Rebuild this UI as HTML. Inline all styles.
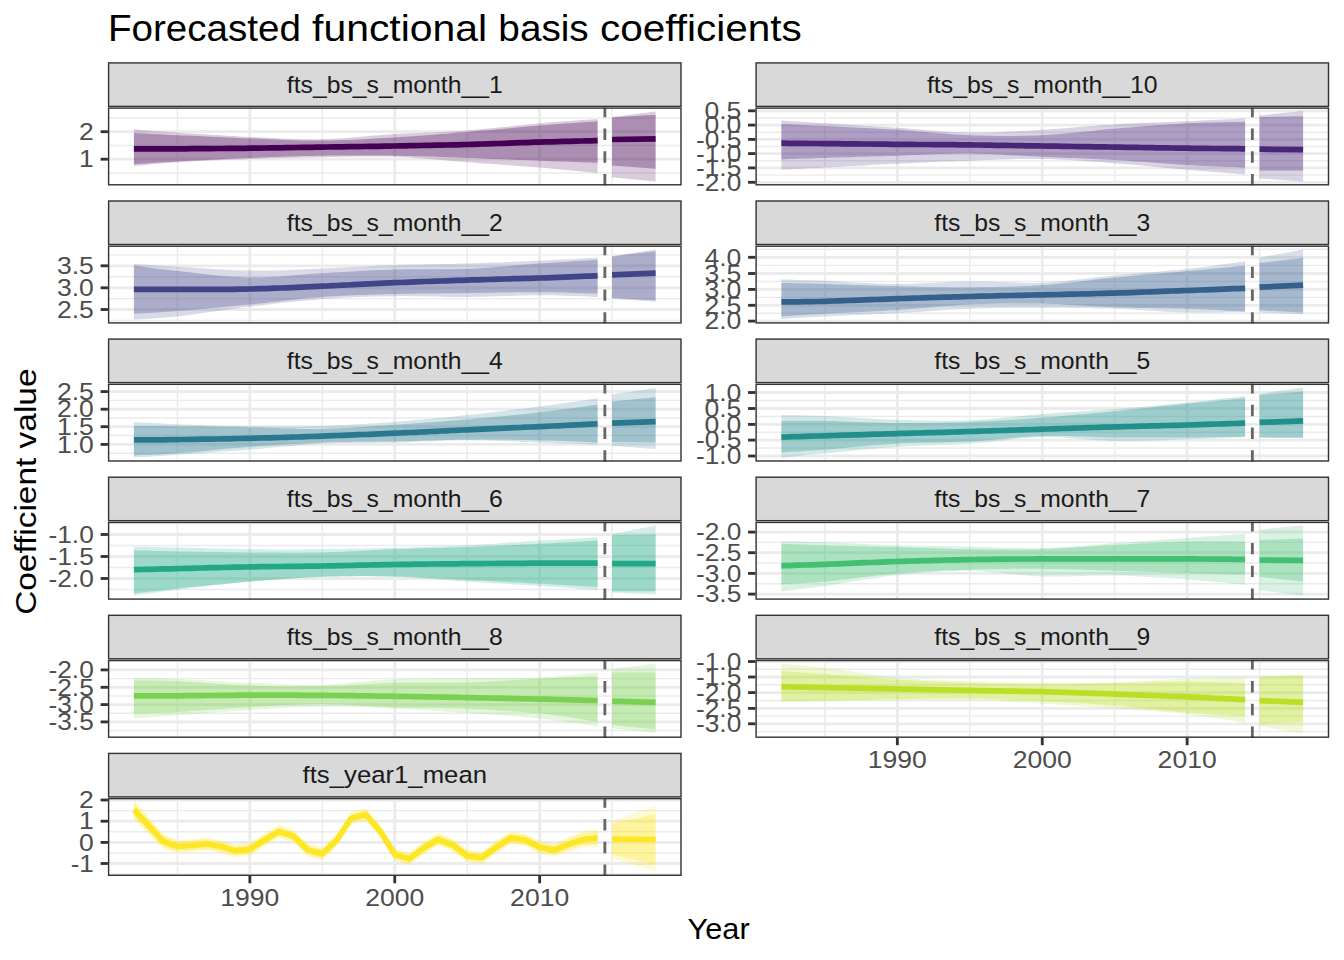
<!DOCTYPE html><html><head><meta charset="utf-8"><style>html,body{margin:0;padding:0;background:#fff;width:1344px;height:960px;overflow:hidden}svg{display:block}text{font-family:"Liberation Sans",sans-serif}</style></head><body>
<svg width="1344" height="960" viewBox="0 0 1344 960">
<rect x="0" y="0" width="1344" height="960" fill="#ffffff"/>
<defs>
<clipPath id="cp0"><rect x="107.90" y="107.40" width="573.80" height="78.10"/></clipPath>
<clipPath id="cp1"><rect x="755.40" y="107.40" width="573.80" height="78.10"/></clipPath>
<clipPath id="cp2"><rect x="107.90" y="245.50" width="573.80" height="78.10"/></clipPath>
<clipPath id="cp3"><rect x="755.40" y="245.50" width="573.80" height="78.10"/></clipPath>
<clipPath id="cp4"><rect x="107.90" y="383.60" width="573.80" height="78.10"/></clipPath>
<clipPath id="cp5"><rect x="755.40" y="383.60" width="573.80" height="78.10"/></clipPath>
<clipPath id="cp6"><rect x="107.90" y="521.70" width="573.80" height="78.10"/></clipPath>
<clipPath id="cp7"><rect x="755.40" y="521.70" width="573.80" height="78.10"/></clipPath>
<clipPath id="cp8"><rect x="107.90" y="659.80" width="573.80" height="78.10"/></clipPath>
<clipPath id="cp9"><rect x="755.40" y="659.80" width="573.80" height="78.10"/></clipPath>
<clipPath id="cp10"><rect x="107.90" y="797.90" width="573.80" height="78.10"/></clipPath>
</defs>
<text x="107.90" y="40.70" font-size="36.26" fill="#000000" text-anchor="start" textLength="192.95" lengthAdjust="spacingAndGlyphs">Forecasted</text><text x="312.04" y="40.70" font-size="36.26" fill="#000000" text-anchor="start" textLength="175.14" lengthAdjust="spacingAndGlyphs">functional</text><text x="498.36" y="40.70" font-size="36.26" fill="#000000" text-anchor="start" textLength="90.37" lengthAdjust="spacingAndGlyphs">basis</text><text x="599.92" y="40.70" font-size="36.26" fill="#000000" text-anchor="start" textLength="201.82" lengthAdjust="spacingAndGlyphs">coefficients</text>
<g transform="translate(35.9,491.6) rotate(-90)"><text x="-123.21" y="0.00" font-size="30.18" fill="#000000" text-anchor="start" textLength="157.08" lengthAdjust="spacingAndGlyphs">Coefficient</text><text x="43.18" y="0.00" font-size="30.18" fill="#000000" text-anchor="start" textLength="80.03" lengthAdjust="spacingAndGlyphs">value</text></g>
<text x="718.60" y="938.70" font-size="30.18" fill="#000000" text-anchor="middle" textLength="62.03" lengthAdjust="spacingAndGlyphs">Year</text>
<rect x="108.61" y="62.91" width="572.38" height="43.48" fill="#D9D9D9" stroke="#333333" stroke-width="1.42"/>
<text x="394.80" y="92.70" font-size="23.90" fill="#1A1A1A" text-anchor="middle" textLength="215.90" lengthAdjust="spacingAndGlyphs">fts_bs_s_month__1</text>
<g clip-path="url(#cp0)">
<rect x="107.90" y="107.40" width="573.80" height="78.10" fill="#ffffff"/>
<line x1="107.90" y1="145.45" x2="681.70" y2="145.45" stroke="#EBEBEB" stroke-width="1.42"/>
<line x1="107.90" y1="117.95" x2="681.70" y2="117.95" stroke="#EBEBEB" stroke-width="1.42"/>
<line x1="107.90" y1="172.95" x2="681.70" y2="172.95" stroke="#EBEBEB" stroke-width="1.42"/>
<line x1="177.40" y1="107.40" x2="177.40" y2="185.50" stroke="#EBEBEB" stroke-width="1.42"/>
<line x1="322.30" y1="107.40" x2="322.30" y2="185.50" stroke="#EBEBEB" stroke-width="1.42"/>
<line x1="467.20" y1="107.40" x2="467.20" y2="185.50" stroke="#EBEBEB" stroke-width="1.42"/>
<line x1="612.10" y1="107.40" x2="612.10" y2="185.50" stroke="#EBEBEB" stroke-width="1.42"/>
<line x1="107.90" y1="131.70" x2="681.70" y2="131.70" stroke="#EBEBEB" stroke-width="2.84"/>
<line x1="107.90" y1="159.20" x2="681.70" y2="159.20" stroke="#EBEBEB" stroke-width="2.84"/>
<line x1="249.85" y1="107.40" x2="249.85" y2="185.50" stroke="#EBEBEB" stroke-width="2.84"/>
<line x1="394.75" y1="107.40" x2="394.75" y2="185.50" stroke="#EBEBEB" stroke-width="2.84"/>
<line x1="539.65" y1="107.40" x2="539.65" y2="185.50" stroke="#EBEBEB" stroke-width="2.84"/>
<path d="M133.9,129.4 L137.1,129.6 L141.1,129.9 L145.8,130.3 L151.1,130.7 L157.1,131.2 L163.5,131.6 L170.3,132.1 L177.4,132.6 L181.7,132.9 L186.2,133.2 L191.0,133.5 L196.0,133.8 L201.1,134.1 L206.4,134.5 L211.8,134.8 L217.3,135.1 L222.8,135.5 L228.3,135.8 L233.8,136.1 L239.2,136.4 L244.6,136.7 L249.8,136.9 L255.0,137.1 L260.2,137.4 L265.4,137.6 L270.6,137.9 L275.7,138.1 L280.9,138.4 L286.1,138.6 L291.2,138.8 L296.4,138.9 L301.6,139.1 L306.8,139.1 L311.9,139.2 L317.1,139.2 L322.3,139.1 L327.5,139.0 L332.7,138.8 L337.8,138.5 L343.0,138.2 L348.2,137.8 L353.4,137.4 L358.5,137.0 L363.7,136.5 L368.9,136.1 L374.1,135.6 L379.2,135.2 L384.4,134.8 L389.6,134.4 L394.8,134.1 L399.9,133.8 L405.1,133.5 L410.3,133.3 L415.4,133.1 L420.6,132.9 L425.8,132.6 L431.0,132.4 L436.1,132.2 L441.3,132.0 L446.5,131.8 L451.7,131.5 L456.8,131.2 L462.0,130.9 L467.2,130.5 L472.4,130.1 L477.7,129.6 L483.0,129.1 L488.3,128.6 L493.7,128.1 L499.0,127.5 L504.3,126.9 L509.6,126.4 L514.8,125.8 L520.0,125.3 L525.1,124.7 L530.1,124.2 L534.9,123.7 L539.6,123.3 L545.7,122.8 L551.9,122.3 L558.1,121.8 L564.2,121.3 L570.2,120.9 L576.0,120.5 L581.4,120.1 L586.4,119.8 L590.8,119.5 L594.6,119.2 L597.6,119.0 L597.6,173.0 L594.6,172.7 L590.8,172.3 L586.4,171.9 L581.4,171.4 L576.0,170.9 L570.2,170.4 L564.2,169.8 L558.1,169.2 L551.9,168.7 L545.7,168.1 L539.6,167.6 L534.9,167.2 L530.1,166.8 L525.1,166.4 L520.0,166.1 L514.8,165.7 L509.6,165.3 L504.3,164.9 L499.0,164.5 L493.7,164.1 L488.3,163.7 L483.0,163.4 L477.7,163.0 L472.4,162.6 L467.2,162.2 L462.0,161.8 L456.8,161.4 L451.7,160.9 L446.5,160.5 L441.3,160.0 L436.1,159.6 L431.0,159.1 L425.8,158.7 L420.6,158.3 L415.4,157.9 L410.3,157.6 L405.1,157.3 L399.9,157.0 L394.8,156.8 L389.6,156.6 L384.4,156.5 L379.2,156.5 L374.1,156.5 L368.9,156.5 L363.7,156.5 L358.5,156.5 L353.4,156.6 L348.2,156.7 L343.0,156.8 L337.8,156.9 L332.7,157.0 L327.5,157.1 L322.3,157.2 L317.1,157.3 L311.9,157.4 L306.8,157.5 L301.6,157.6 L296.4,157.7 L291.2,157.8 L286.1,157.9 L280.9,158.1 L275.7,158.2 L270.6,158.3 L265.4,158.5 L260.2,158.7 L255.0,158.8 L249.8,159.0 L244.6,159.2 L239.2,159.4 L233.8,159.6 L228.3,159.8 L222.8,160.0 L217.3,160.2 L211.8,160.5 L206.4,160.7 L201.1,160.9 L196.0,161.2 L191.0,161.4 L186.2,161.7 L181.7,161.9 L177.4,162.2 L170.3,162.7 L163.5,163.2 L157.1,163.8 L151.1,164.3 L145.8,164.9 L141.1,165.4 L137.1,165.8 L133.9,166.1 Z" fill="#440154" fill-opacity="0.2"/>
<path d="M133.9,133.0 L137.1,133.2 L141.1,133.4 L145.8,133.6 L151.1,133.9 L157.1,134.2 L163.5,134.5 L170.3,134.9 L177.4,135.2 L181.7,135.4 L186.2,135.6 L191.0,135.8 L196.0,136.1 L201.1,136.3 L206.4,136.6 L211.8,136.8 L217.3,137.0 L222.8,137.3 L228.3,137.5 L233.8,137.8 L239.2,138.0 L244.6,138.2 L249.8,138.4 L255.0,138.6 L260.2,138.8 L265.4,139.0 L270.6,139.3 L275.7,139.5 L280.9,139.7 L286.1,139.9 L291.2,140.1 L296.4,140.3 L301.6,140.4 L306.8,140.5 L311.9,140.6 L317.1,140.6 L322.3,140.6 L327.5,140.5 L332.7,140.4 L337.8,140.3 L343.0,140.1 L348.2,139.9 L353.4,139.7 L358.5,139.5 L363.7,139.2 L368.9,138.9 L374.1,138.6 L379.2,138.3 L384.4,138.0 L389.6,137.7 L394.8,137.4 L399.9,137.1 L405.1,136.8 L410.3,136.4 L415.4,136.0 L420.6,135.7 L425.8,135.3 L431.0,134.9 L436.1,134.5 L441.3,134.1 L446.5,133.7 L451.7,133.3 L456.8,132.8 L462.0,132.4 L467.2,132.0 L472.4,131.6 L477.7,131.1 L483.0,130.6 L488.3,130.2 L493.7,129.7 L499.0,129.2 L504.3,128.7 L509.6,128.2 L514.8,127.7 L520.0,127.2 L525.1,126.8 L530.1,126.3 L534.9,125.9 L539.6,125.5 L545.7,125.0 L551.9,124.5 L558.1,124.1 L564.2,123.6 L570.2,123.2 L576.0,122.7 L581.4,122.4 L586.4,122.0 L590.8,121.7 L594.6,121.4 L597.6,121.2 L597.6,162.8 L594.6,162.7 L590.8,162.6 L586.4,162.4 L581.4,162.2 L576.0,162.0 L570.2,161.8 L564.2,161.6 L558.1,161.4 L551.9,161.2 L545.7,160.9 L539.6,160.7 L534.9,160.5 L530.1,160.3 L525.1,160.1 L520.0,159.9 L514.8,159.7 L509.6,159.5 L504.3,159.3 L499.0,159.1 L493.7,158.9 L488.3,158.7 L483.0,158.5 L477.7,158.3 L472.4,158.1 L467.2,157.9 L462.0,157.7 L456.8,157.5 L451.7,157.3 L446.5,157.2 L441.3,157.0 L436.1,156.8 L431.0,156.6 L425.8,156.5 L420.6,156.3 L415.4,156.2 L410.3,156.0 L405.1,155.9 L399.9,155.8 L394.8,155.7 L389.6,155.6 L384.4,155.6 L379.2,155.5 L374.1,155.5 L368.9,155.4 L363.7,155.4 L358.5,155.4 L353.4,155.4 L348.2,155.4 L343.0,155.5 L337.8,155.5 L332.7,155.6 L327.5,155.6 L322.3,155.7 L317.1,155.8 L311.9,155.9 L306.8,156.0 L301.6,156.1 L296.4,156.3 L291.2,156.4 L286.1,156.6 L280.9,156.7 L275.7,156.9 L270.6,157.1 L265.4,157.3 L260.2,157.5 L255.0,157.7 L249.8,157.9 L244.6,158.1 L239.2,158.3 L233.8,158.6 L228.3,158.8 L222.8,159.1 L217.3,159.4 L211.8,159.7 L206.4,159.9 L201.1,160.2 L196.0,160.5 L191.0,160.8 L186.2,161.0 L181.7,161.3 L177.4,161.5 L170.3,161.9 L163.5,162.3 L157.1,162.7 L151.1,163.1 L145.8,163.5 L141.1,163.8 L137.1,164.1 L133.9,164.3 Z" fill="#440154" fill-opacity="0.3"/>
<path d="M612.1,117.0 L655.6,111.5 L655.6,181.6 L612.1,177.3 Z" fill="#440154" fill-opacity="0.2"/>
<path d="M612.1,117.5 L655.6,114.7 L655.6,168.7 L612.1,165.4 Z" fill="#440154" fill-opacity="0.3"/>
<polyline points="133.9,148.8 137.1,148.8 141.1,148.8 145.8,148.8 151.1,148.8 157.1,148.8 163.5,148.8 170.3,148.8 177.4,148.8 181.7,148.8 186.2,148.8 191.0,148.7 196.0,148.7 201.1,148.7 206.4,148.6 211.8,148.6 217.3,148.5 222.8,148.5 228.3,148.4 233.8,148.4 239.2,148.3 244.6,148.3 249.8,148.2 255.0,148.1 260.2,148.1 265.4,148.0 270.6,147.9 275.7,147.8 280.9,147.8 286.1,147.7 291.2,147.6 296.4,147.5 301.6,147.4 306.8,147.3 311.9,147.3 317.1,147.2 322.3,147.1 327.5,147.0 332.7,146.9 337.8,146.9 343.0,146.8 348.2,146.7 353.4,146.6 358.5,146.6 363.7,146.5 368.9,146.4 374.1,146.3 379.2,146.3 384.4,146.2 389.6,146.1 394.8,146.0 399.9,145.9 405.1,145.8 410.3,145.7 415.4,145.6 420.6,145.5 425.8,145.4 431.0,145.3 436.1,145.2 441.3,145.1 446.5,145.0 451.7,144.9 456.8,144.8 462.0,144.6 467.2,144.5 472.4,144.4 477.7,144.2 483.0,144.0 488.3,143.9 493.7,143.7 499.0,143.5 504.3,143.3 509.6,143.1 514.8,142.9 520.0,142.7 525.1,142.6 530.1,142.4 534.9,142.2 539.6,142.1 545.7,141.9 551.9,141.8 558.1,141.6 564.2,141.4 570.2,141.3 576.0,141.1 581.4,141.0 586.4,140.9 590.8,140.8 594.6,140.7 597.6,140.6" fill="none" stroke="#440154" stroke-width="5.69" stroke-linejoin="round" stroke-linecap="butt"/>
<polyline points="612.1,139.5 655.6,138.9" fill="none" stroke="#440154" stroke-width="5.69" stroke-linejoin="round" stroke-linecap="butt"/>
<line x1="604.86" y1="185.50" x2="604.86" y2="107.40" stroke="#666666" stroke-width="2.84" stroke-dasharray="11.38 11.38"/>
</g>
<rect x="108.61" y="108.11" width="572.38" height="76.68" fill="none" stroke="#333333" stroke-width="1.42"/>
<line x1="100.60" y1="131.70" x2="107.90" y2="131.70" stroke="#333333" stroke-width="2.84"/>
<text x="93.80" y="139.90" font-size="23.90" fill="#4D4D4D" text-anchor="end" textLength="14.76" lengthAdjust="spacingAndGlyphs">2</text>
<line x1="100.60" y1="159.20" x2="107.90" y2="159.20" stroke="#333333" stroke-width="2.84"/>
<text x="93.80" y="167.40" font-size="23.90" fill="#4D4D4D" text-anchor="end" textLength="14.76" lengthAdjust="spacingAndGlyphs">1</text>
<rect x="756.11" y="62.91" width="572.38" height="43.48" fill="#D9D9D9" stroke="#333333" stroke-width="1.42"/>
<text x="1042.30" y="92.70" font-size="23.90" fill="#1A1A1A" text-anchor="middle" textLength="230.66" lengthAdjust="spacingAndGlyphs">fts_bs_s_month__10</text>
<g clip-path="url(#cp1)">
<rect x="755.40" y="107.40" width="573.80" height="78.10" fill="#ffffff"/>
<line x1="755.40" y1="117.95" x2="1329.20" y2="117.95" stroke="#EBEBEB" stroke-width="1.42"/>
<line x1="755.40" y1="132.25" x2="1329.20" y2="132.25" stroke="#EBEBEB" stroke-width="1.42"/>
<line x1="755.40" y1="146.50" x2="1329.20" y2="146.50" stroke="#EBEBEB" stroke-width="1.42"/>
<line x1="755.40" y1="160.75" x2="1329.20" y2="160.75" stroke="#EBEBEB" stroke-width="1.42"/>
<line x1="755.40" y1="175.10" x2="1329.20" y2="175.10" stroke="#EBEBEB" stroke-width="1.42"/>
<line x1="824.90" y1="107.40" x2="824.90" y2="185.50" stroke="#EBEBEB" stroke-width="1.42"/>
<line x1="969.80" y1="107.40" x2="969.80" y2="185.50" stroke="#EBEBEB" stroke-width="1.42"/>
<line x1="1114.70" y1="107.40" x2="1114.70" y2="185.50" stroke="#EBEBEB" stroke-width="1.42"/>
<line x1="1259.60" y1="107.40" x2="1259.60" y2="185.50" stroke="#EBEBEB" stroke-width="1.42"/>
<line x1="755.40" y1="110.80" x2="1329.20" y2="110.80" stroke="#EBEBEB" stroke-width="2.84"/>
<line x1="755.40" y1="125.10" x2="1329.20" y2="125.10" stroke="#EBEBEB" stroke-width="2.84"/>
<line x1="755.40" y1="139.40" x2="1329.20" y2="139.40" stroke="#EBEBEB" stroke-width="2.84"/>
<line x1="755.40" y1="153.60" x2="1329.20" y2="153.60" stroke="#EBEBEB" stroke-width="2.84"/>
<line x1="755.40" y1="167.90" x2="1329.20" y2="167.90" stroke="#EBEBEB" stroke-width="2.84"/>
<line x1="755.40" y1="182.30" x2="1329.20" y2="182.30" stroke="#EBEBEB" stroke-width="2.84"/>
<line x1="897.35" y1="107.40" x2="897.35" y2="185.50" stroke="#EBEBEB" stroke-width="2.84"/>
<line x1="1042.25" y1="107.40" x2="1042.25" y2="185.50" stroke="#EBEBEB" stroke-width="2.84"/>
<line x1="1187.15" y1="107.40" x2="1187.15" y2="185.50" stroke="#EBEBEB" stroke-width="2.84"/>
<path d="M781.4,120.5 L784.6,120.7 L788.6,121.0 L793.3,121.3 L798.6,121.6 L804.6,122.0 L811.0,122.4 L817.8,122.9 L824.9,123.3 L829.2,123.6 L833.7,123.8 L838.5,124.1 L843.5,124.4 L848.6,124.7 L853.9,125.0 L859.3,125.4 L864.8,125.7 L870.3,126.0 L875.8,126.4 L881.3,126.7 L886.7,127.0 L892.1,127.4 L897.3,127.7 L902.5,128.1 L907.7,128.4 L912.9,128.9 L918.0,129.3 L923.2,129.7 L928.4,130.2 L933.6,130.6 L938.7,131.0 L943.9,131.4 L949.1,131.7 L954.3,132.1 L959.4,132.3 L964.6,132.5 L969.8,132.6 L975.0,132.6 L980.1,132.6 L985.3,132.6 L990.5,132.4 L995.7,132.3 L1000.9,132.1 L1006.0,131.8 L1011.2,131.6 L1016.4,131.3 L1021.5,131.0 L1026.7,130.7 L1031.9,130.4 L1037.1,130.1 L1042.2,129.8 L1047.4,129.5 L1052.6,129.1 L1057.8,128.8 L1063.0,128.4 L1068.1,128.0 L1073.3,127.6 L1078.5,127.1 L1083.6,126.7 L1088.8,126.3 L1094.0,125.9 L1099.2,125.5 L1104.3,125.1 L1109.5,124.7 L1114.7,124.4 L1119.9,124.1 L1125.2,123.8 L1130.5,123.6 L1135.8,123.3 L1141.2,123.1 L1146.5,122.9 L1151.8,122.6 L1157.1,122.4 L1162.3,122.2 L1167.5,122.0 L1172.6,121.8 L1177.6,121.6 L1182.4,121.4 L1187.1,121.2 L1193.2,120.9 L1199.4,120.6 L1205.6,120.3 L1211.7,120.0 L1217.7,119.7 L1223.5,119.5 L1228.9,119.2 L1233.9,119.0 L1238.3,118.7 L1242.1,118.5 L1245.1,118.4 L1245.1,174.5 L1242.1,174.2 L1238.3,173.9 L1233.9,173.6 L1228.9,173.2 L1223.5,172.7 L1217.7,172.3 L1211.7,171.8 L1205.6,171.3 L1199.4,170.7 L1193.2,170.2 L1187.1,169.7 L1182.4,169.3 L1177.6,168.9 L1172.6,168.4 L1167.5,167.9 L1162.3,167.4 L1157.1,167.0 L1151.8,166.5 L1146.5,166.0 L1141.2,165.5 L1135.8,165.0 L1130.5,164.6 L1125.2,164.1 L1119.9,163.7 L1114.7,163.3 L1109.5,162.9 L1104.3,162.5 L1099.2,162.1 L1094.0,161.7 L1088.8,161.4 L1083.6,161.0 L1078.5,160.6 L1073.3,160.3 L1068.1,160.0 L1063.0,159.7 L1057.8,159.5 L1052.6,159.3 L1047.4,159.1 L1042.2,159.0 L1037.1,158.9 L1031.9,158.9 L1026.7,158.9 L1021.5,159.0 L1016.4,159.1 L1011.2,159.2 L1006.0,159.4 L1000.9,159.6 L995.7,159.8 L990.5,159.9 L985.3,160.1 L980.1,160.3 L975.0,160.5 L969.8,160.7 L964.6,160.9 L959.4,161.1 L954.3,161.2 L949.1,161.4 L943.9,161.6 L938.7,161.8 L933.6,162.1 L928.4,162.3 L923.2,162.5 L918.0,162.7 L912.9,163.0 L907.7,163.2 L902.5,163.5 L897.3,163.7 L892.1,164.0 L886.7,164.2 L881.3,164.5 L875.8,164.8 L870.3,165.1 L864.8,165.4 L859.3,165.7 L853.9,166.0 L848.6,166.3 L843.5,166.6 L838.5,166.9 L833.7,167.1 L829.2,167.4 L824.9,167.6 L817.8,168.0 L811.0,168.3 L804.6,168.6 L798.6,168.9 L793.3,169.1 L788.6,169.4 L784.6,169.6 L781.4,169.7 Z" fill="#482576" fill-opacity="0.2"/>
<path d="M781.4,124.0 L784.6,124.2 L788.6,124.3 L793.3,124.6 L798.6,124.8 L804.6,125.1 L811.0,125.4 L817.8,125.7 L824.9,126.1 L829.2,126.3 L833.7,126.5 L838.5,126.8 L843.5,127.0 L848.6,127.2 L853.9,127.5 L859.3,127.7 L864.8,128.0 L870.3,128.3 L875.8,128.6 L881.3,128.9 L886.7,129.2 L892.1,129.5 L897.3,129.8 L902.5,130.1 L907.7,130.5 L912.9,130.9 L918.0,131.4 L923.2,131.8 L928.4,132.3 L933.6,132.7 L938.7,133.2 L943.9,133.6 L949.1,134.0 L954.3,134.4 L959.4,134.7 L964.6,135.0 L969.8,135.2 L975.0,135.4 L980.1,135.5 L985.3,135.7 L990.5,135.8 L995.7,135.9 L1000.9,135.9 L1006.0,135.9 L1011.2,135.9 L1016.4,135.9 L1021.5,135.8 L1026.7,135.7 L1031.9,135.6 L1037.1,135.4 L1042.2,135.2 L1047.4,134.9 L1052.6,134.6 L1057.8,134.2 L1063.0,133.8 L1068.1,133.3 L1073.3,132.8 L1078.5,132.3 L1083.6,131.7 L1088.8,131.2 L1094.0,130.7 L1099.2,130.1 L1104.3,129.6 L1109.5,129.1 L1114.7,128.7 L1119.9,128.3 L1125.2,127.8 L1130.5,127.4 L1135.8,127.0 L1141.2,126.5 L1146.5,126.1 L1151.8,125.7 L1157.1,125.3 L1162.3,124.9 L1167.5,124.5 L1172.6,124.2 L1177.6,123.9 L1182.4,123.6 L1187.1,123.3 L1193.2,123.0 L1199.4,122.8 L1205.6,122.6 L1211.7,122.4 L1217.7,122.3 L1223.5,122.2 L1228.9,122.1 L1233.9,122.0 L1238.3,121.9 L1242.1,121.9 L1245.1,121.8 L1245.1,167.6 L1242.1,167.5 L1238.3,167.3 L1233.9,167.1 L1228.9,166.9 L1223.5,166.7 L1217.7,166.5 L1211.7,166.2 L1205.6,166.0 L1199.4,165.7 L1193.2,165.3 L1187.1,165.0 L1182.4,164.7 L1177.6,164.4 L1172.6,164.1 L1167.5,163.7 L1162.3,163.3 L1157.1,162.9 L1151.8,162.5 L1146.5,162.1 L1141.2,161.8 L1135.8,161.4 L1130.5,161.0 L1125.2,160.6 L1119.9,160.3 L1114.7,160.0 L1109.5,159.7 L1104.3,159.4 L1099.2,159.2 L1094.0,159.0 L1088.8,158.7 L1083.6,158.5 L1078.5,158.3 L1073.3,158.1 L1068.1,157.9 L1063.0,157.7 L1057.8,157.5 L1052.6,157.2 L1047.4,157.0 L1042.2,156.8 L1037.1,156.6 L1031.9,156.3 L1026.7,156.0 L1021.5,155.7 L1016.4,155.4 L1011.2,155.2 L1006.0,154.9 L1000.9,154.6 L995.7,154.4 L990.5,154.1 L985.3,153.9 L980.1,153.8 L975.0,153.7 L969.8,153.6 L964.6,153.6 L959.4,153.6 L954.3,153.7 L949.1,153.8 L943.9,154.0 L938.7,154.1 L933.6,154.3 L928.4,154.5 L923.2,154.7 L918.0,154.9 L912.9,155.1 L907.7,155.3 L902.5,155.5 L897.3,155.7 L892.1,155.9 L886.7,156.0 L881.3,156.2 L875.8,156.3 L870.3,156.5 L864.8,156.7 L859.3,156.8 L853.9,157.0 L848.6,157.2 L843.5,157.3 L838.5,157.5 L833.7,157.6 L829.2,157.8 L824.9,157.9 L817.8,158.1 L811.0,158.4 L804.6,158.6 L798.6,158.8 L793.3,159.0 L788.6,159.1 L784.6,159.3 L781.4,159.4 Z" fill="#482576" fill-opacity="0.3"/>
<path d="M1259.6,115.4 L1303.1,111.0 L1303.1,181.6 L1259.6,178.4 Z" fill="#482576" fill-opacity="0.2"/>
<path d="M1259.6,116.9 L1303.1,116.2 L1303.1,170.8 L1259.6,170.8 Z" fill="#482576" fill-opacity="0.3"/>
<polyline points="781.4,143.2 784.6,143.2 788.6,143.3 793.3,143.3 798.6,143.4 804.6,143.4 811.0,143.5 817.8,143.5 824.9,143.6 829.2,143.6 833.7,143.7 838.5,143.7 843.5,143.8 848.6,143.8 853.9,143.9 859.3,143.9 864.8,144.0 870.3,144.0 875.8,144.1 881.3,144.2 886.7,144.2 892.1,144.3 897.3,144.3 902.5,144.3 907.7,144.4 912.9,144.4 918.0,144.5 923.2,144.5 928.4,144.5 933.6,144.6 938.7,144.6 943.9,144.7 949.1,144.7 954.3,144.7 959.4,144.8 964.6,144.8 969.8,144.9 975.0,145.0 980.1,145.0 985.3,145.1 990.5,145.2 995.7,145.3 1000.9,145.3 1006.0,145.4 1011.2,145.5 1016.4,145.6 1021.5,145.7 1026.7,145.8 1031.9,145.8 1037.1,145.9 1042.2,146.0 1047.4,146.1 1052.6,146.2 1057.8,146.2 1063.0,146.3 1068.1,146.4 1073.3,146.5 1078.5,146.6 1083.6,146.6 1088.8,146.7 1094.0,146.8 1099.2,146.9 1104.3,146.9 1109.5,147.0 1114.7,147.1 1119.9,147.2 1125.2,147.3 1130.5,147.3 1135.8,147.4 1141.2,147.5 1146.5,147.6 1151.8,147.7 1157.1,147.8 1162.3,147.8 1167.5,147.9 1172.6,148.0 1177.6,148.1 1182.4,148.1 1187.1,148.2 1193.2,148.3 1199.4,148.3 1205.6,148.4 1211.7,148.5 1217.7,148.5 1223.5,148.6 1228.9,148.6 1233.9,148.7 1238.3,148.7 1242.1,148.8 1245.1,148.8" fill="none" stroke="#482576" stroke-width="5.69" stroke-linejoin="round" stroke-linecap="butt"/>
<polyline points="1259.6,149.2 1303.1,149.7" fill="none" stroke="#482576" stroke-width="5.69" stroke-linejoin="round" stroke-linecap="butt"/>
<line x1="1252.36" y1="185.50" x2="1252.36" y2="107.40" stroke="#666666" stroke-width="2.84" stroke-dasharray="11.38 11.38"/>
</g>
<rect x="756.11" y="108.11" width="572.38" height="76.68" fill="none" stroke="#333333" stroke-width="1.42"/>
<line x1="748.10" y1="110.80" x2="755.40" y2="110.80" stroke="#333333" stroke-width="2.84"/>
<text x="741.30" y="119.00" font-size="23.90" fill="#4D4D4D" text-anchor="end" textLength="36.90" lengthAdjust="spacingAndGlyphs">0.5</text>
<line x1="748.10" y1="125.10" x2="755.40" y2="125.10" stroke="#333333" stroke-width="2.84"/>
<text x="741.30" y="133.30" font-size="23.90" fill="#4D4D4D" text-anchor="end" textLength="36.90" lengthAdjust="spacingAndGlyphs">0.0</text>
<line x1="748.10" y1="139.40" x2="755.40" y2="139.40" stroke="#333333" stroke-width="2.84"/>
<text x="741.30" y="147.60" font-size="23.90" fill="#4D4D4D" text-anchor="end" textLength="45.27" lengthAdjust="spacingAndGlyphs">-0.5</text>
<line x1="748.10" y1="153.60" x2="755.40" y2="153.60" stroke="#333333" stroke-width="2.84"/>
<text x="741.30" y="161.80" font-size="23.90" fill="#4D4D4D" text-anchor="end" textLength="45.27" lengthAdjust="spacingAndGlyphs">-1.0</text>
<line x1="748.10" y1="167.90" x2="755.40" y2="167.90" stroke="#333333" stroke-width="2.84"/>
<text x="741.30" y="176.10" font-size="23.90" fill="#4D4D4D" text-anchor="end" textLength="45.27" lengthAdjust="spacingAndGlyphs">-1.5</text>
<line x1="748.10" y1="182.30" x2="755.40" y2="182.30" stroke="#333333" stroke-width="2.84"/>
<text x="741.30" y="190.50" font-size="23.90" fill="#4D4D4D" text-anchor="end" textLength="45.27" lengthAdjust="spacingAndGlyphs">-2.0</text>
<rect x="108.61" y="201.01" width="572.38" height="43.48" fill="#D9D9D9" stroke="#333333" stroke-width="1.42"/>
<text x="394.80" y="230.80" font-size="23.90" fill="#1A1A1A" text-anchor="middle" textLength="215.90" lengthAdjust="spacingAndGlyphs">fts_bs_s_month__2</text>
<g clip-path="url(#cp2)">
<rect x="107.90" y="245.50" width="573.80" height="78.10" fill="#ffffff"/>
<line x1="107.90" y1="276.80" x2="681.70" y2="276.80" stroke="#EBEBEB" stroke-width="1.42"/>
<line x1="107.90" y1="298.65" x2="681.70" y2="298.65" stroke="#EBEBEB" stroke-width="1.42"/>
<line x1="107.90" y1="254.88" x2="681.70" y2="254.88" stroke="#EBEBEB" stroke-width="1.42"/>
<line x1="107.90" y1="320.43" x2="681.70" y2="320.43" stroke="#EBEBEB" stroke-width="1.42"/>
<line x1="177.40" y1="245.50" x2="177.40" y2="323.60" stroke="#EBEBEB" stroke-width="1.42"/>
<line x1="322.30" y1="245.50" x2="322.30" y2="323.60" stroke="#EBEBEB" stroke-width="1.42"/>
<line x1="467.20" y1="245.50" x2="467.20" y2="323.60" stroke="#EBEBEB" stroke-width="1.42"/>
<line x1="612.10" y1="245.50" x2="612.10" y2="323.60" stroke="#EBEBEB" stroke-width="1.42"/>
<line x1="107.90" y1="265.80" x2="681.70" y2="265.80" stroke="#EBEBEB" stroke-width="2.84"/>
<line x1="107.90" y1="287.80" x2="681.70" y2="287.80" stroke="#EBEBEB" stroke-width="2.84"/>
<line x1="107.90" y1="309.50" x2="681.70" y2="309.50" stroke="#EBEBEB" stroke-width="2.84"/>
<line x1="249.85" y1="245.50" x2="249.85" y2="323.60" stroke="#EBEBEB" stroke-width="2.84"/>
<line x1="394.75" y1="245.50" x2="394.75" y2="323.60" stroke="#EBEBEB" stroke-width="2.84"/>
<line x1="539.65" y1="245.50" x2="539.65" y2="323.60" stroke="#EBEBEB" stroke-width="2.84"/>
<path d="M133.9,264.1 L137.1,264.3 L141.1,264.5 L145.8,264.8 L151.1,265.2 L157.1,265.5 L163.5,265.9 L170.3,266.3 L177.4,266.7 L181.7,267.0 L186.2,267.2 L191.0,267.6 L196.0,267.9 L201.1,268.2 L206.4,268.6 L211.8,268.9 L217.3,269.3 L222.8,269.6 L228.3,269.9 L233.8,270.1 L239.2,270.3 L244.6,270.5 L249.8,270.6 L255.0,270.6 L260.2,270.6 L265.4,270.6 L270.6,270.5 L275.7,270.4 L280.9,270.2 L286.1,270.0 L291.2,269.8 L296.4,269.6 L301.6,269.4 L306.8,269.2 L311.9,268.9 L317.1,268.7 L322.3,268.5 L327.5,268.3 L332.7,268.1 L337.8,267.8 L343.0,267.5 L348.2,267.3 L353.4,267.0 L358.5,266.7 L363.7,266.4 L368.9,266.2 L374.1,265.9 L379.2,265.6 L384.4,265.4 L389.6,265.2 L394.8,265.0 L399.9,264.8 L405.1,264.7 L410.3,264.6 L415.4,264.5 L420.6,264.4 L425.8,264.3 L431.0,264.2 L436.1,264.1 L441.3,264.0 L446.5,264.0 L451.7,263.9 L456.8,263.8 L462.0,263.6 L467.2,263.5 L472.4,263.3 L477.7,263.2 L483.0,263.0 L488.3,262.8 L493.7,262.6 L499.0,262.4 L504.3,262.2 L509.6,262.0 L514.8,261.8 L520.0,261.6 L525.1,261.3 L530.1,261.1 L534.9,260.9 L539.6,260.7 L545.7,260.4 L551.9,260.1 L558.1,259.8 L564.2,259.5 L570.2,259.2 L576.0,258.9 L581.4,258.6 L586.4,258.3 L590.8,258.1 L594.6,257.9 L597.6,257.7 L597.6,297.0 L594.6,296.9 L590.8,296.7 L586.4,296.5 L581.4,296.3 L576.0,296.1 L570.2,295.9 L564.2,295.7 L558.1,295.5 L551.9,295.3 L545.7,295.2 L539.6,295.2 L534.9,295.2 L530.1,295.3 L525.1,295.4 L520.0,295.5 L514.8,295.7 L509.6,295.9 L504.3,296.0 L499.0,296.2 L493.7,296.4 L488.3,296.6 L483.0,296.7 L477.7,296.8 L472.4,296.9 L467.2,297.0 L462.0,297.0 L456.8,297.0 L451.7,296.9 L446.5,296.9 L441.3,296.8 L436.1,296.6 L431.0,296.5 L425.8,296.4 L420.6,296.3 L415.4,296.2 L410.3,296.2 L405.1,296.1 L399.9,296.1 L394.8,296.2 L389.6,296.3 L384.4,296.4 L379.2,296.5 L374.1,296.6 L368.9,296.8 L363.7,296.9 L358.5,297.1 L353.4,297.3 L348.2,297.6 L343.0,297.8 L337.8,298.1 L332.7,298.4 L327.5,298.7 L322.3,299.1 L317.1,299.5 L311.9,299.9 L306.8,300.4 L301.6,300.9 L296.4,301.4 L291.2,301.9 L286.1,302.5 L280.9,303.0 L275.7,303.6 L270.6,304.2 L265.4,304.8 L260.2,305.5 L255.0,306.1 L249.8,306.7 L244.6,307.3 L239.2,308.0 L233.8,308.8 L228.3,309.5 L222.8,310.3 L217.3,311.1 L211.8,311.8 L206.4,312.6 L201.1,313.3 L196.0,314.0 L191.0,314.7 L186.2,315.3 L181.7,315.9 L177.4,316.4 L170.3,317.1 L163.5,317.7 L157.1,318.2 L151.1,318.6 L145.8,318.9 L141.1,319.2 L137.1,319.4 L133.9,319.6 Z" fill="#414487" fill-opacity="0.2"/>
<path d="M133.9,265.7 L137.1,266.1 L141.1,266.6 L145.8,267.3 L151.1,268.0 L157.1,268.8 L163.5,269.6 L170.3,270.3 L177.4,271.1 L181.7,271.6 L186.2,272.1 L191.0,272.6 L196.0,273.2 L201.1,273.8 L206.4,274.3 L211.8,274.9 L217.3,275.5 L222.8,276.0 L228.3,276.4 L233.8,276.8 L239.2,277.1 L244.6,277.4 L249.8,277.5 L255.0,277.5 L260.2,277.4 L265.4,277.3 L270.6,277.0 L275.7,276.7 L280.9,276.4 L286.1,276.0 L291.2,275.6 L296.4,275.1 L301.6,274.7 L306.8,274.3 L311.9,273.9 L317.1,273.5 L322.3,273.2 L327.5,272.9 L332.7,272.6 L337.8,272.3 L343.0,272.0 L348.2,271.7 L353.4,271.4 L358.5,271.1 L363.7,270.8 L368.9,270.6 L374.1,270.3 L379.2,270.1 L384.4,269.9 L389.6,269.7 L394.8,269.5 L399.9,269.4 L405.1,269.3 L410.3,269.3 L415.4,269.2 L420.6,269.3 L425.8,269.3 L431.0,269.3 L436.1,269.3 L441.3,269.3 L446.5,269.3 L451.7,269.3 L456.8,269.2 L462.0,269.1 L467.2,268.9 L472.4,268.7 L477.7,268.4 L483.0,268.0 L488.3,267.7 L493.7,267.3 L499.0,266.8 L504.3,266.4 L509.6,265.9 L514.8,265.5 L520.0,265.1 L525.1,264.6 L530.1,264.2 L534.9,263.8 L539.6,263.5 L545.7,263.1 L551.9,262.7 L558.1,262.3 L564.2,261.9 L570.2,261.5 L576.0,261.1 L581.4,260.8 L586.4,260.5 L590.8,260.2 L594.6,260.0 L597.6,259.8 L597.6,293.7 L594.6,293.6 L590.8,293.5 L586.4,293.3 L581.4,293.2 L576.0,293.0 L570.2,292.8 L564.2,292.6 L558.1,292.5 L551.9,292.3 L545.7,292.3 L539.6,292.2 L534.9,292.2 L530.1,292.2 L525.1,292.2 L520.0,292.3 L514.8,292.3 L509.6,292.4 L504.3,292.5 L499.0,292.6 L493.7,292.7 L488.3,292.8 L483.0,292.9 L477.7,293.0 L472.4,293.0 L467.2,293.1 L462.0,293.2 L456.8,293.2 L451.7,293.3 L446.5,293.3 L441.3,293.3 L436.1,293.4 L431.0,293.4 L425.8,293.5 L420.6,293.5 L415.4,293.6 L410.3,293.7 L405.1,293.8 L399.9,293.9 L394.8,294.0 L389.6,294.1 L384.4,294.3 L379.2,294.4 L374.1,294.6 L368.9,294.7 L363.7,294.9 L358.5,295.1 L353.4,295.3 L348.2,295.5 L343.0,295.8 L337.8,296.0 L332.7,296.3 L327.5,296.6 L322.3,297.0 L317.1,297.4 L311.9,297.8 L306.8,298.3 L301.6,298.8 L296.4,299.4 L291.2,300.0 L286.1,300.5 L280.9,301.1 L275.7,301.7 L270.6,302.3 L265.4,302.9 L260.2,303.4 L255.0,304.0 L249.8,304.5 L244.6,305.0 L239.2,305.5 L233.8,306.0 L228.3,306.5 L222.8,307.0 L217.3,307.5 L211.8,308.0 L206.4,308.5 L201.1,309.0 L196.0,309.4 L191.0,309.9 L186.2,310.3 L181.7,310.7 L177.4,311.0 L170.3,311.5 L163.5,312.0 L157.1,312.4 L151.1,312.8 L145.8,313.1 L141.1,313.4 L137.1,313.6 L133.9,313.8 Z" fill="#414487" fill-opacity="0.3"/>
<path d="M612.1,256.0 L655.6,249.5 L655.6,301.7 L612.1,298.7 Z" fill="#414487" fill-opacity="0.2"/>
<path d="M612.1,256.4 L655.6,251.2 L655.6,300.2 L612.1,298.0 Z" fill="#414487" fill-opacity="0.3"/>
<polyline points="133.9,289.4 137.1,289.4 141.1,289.4 145.8,289.4 151.1,289.4 157.1,289.4 163.5,289.4 170.3,289.4 177.4,289.4 181.7,289.4 186.2,289.4 191.0,289.4 196.0,289.4 201.1,289.4 206.4,289.4 211.8,289.4 217.3,289.4 222.8,289.3 228.3,289.3 233.8,289.3 239.2,289.2 244.6,289.1 249.8,289.0 255.0,288.9 260.2,288.7 265.4,288.6 270.6,288.4 275.7,288.2 280.9,288.0 286.1,287.8 291.2,287.6 296.4,287.4 301.6,287.1 306.8,286.9 311.9,286.7 317.1,286.4 322.3,286.2 327.5,286.0 332.7,285.7 337.8,285.5 343.0,285.2 348.2,285.0 353.4,284.7 358.5,284.4 363.7,284.2 368.9,283.9 374.1,283.7 379.2,283.4 384.4,283.2 389.6,282.9 394.8,282.7 399.9,282.5 405.1,282.3 410.3,282.1 415.4,281.9 420.6,281.7 425.8,281.5 431.0,281.3 436.1,281.1 441.3,281.0 446.5,280.8 451.7,280.6 456.8,280.4 462.0,280.3 467.2,280.1 472.4,279.9 477.7,279.8 483.0,279.6 488.3,279.5 493.7,279.3 499.0,279.2 504.3,279.0 509.6,278.9 514.8,278.7 520.0,278.6 525.1,278.4 530.1,278.3 534.9,278.2 539.6,278.0 545.7,277.8 551.9,277.6 558.1,277.3 564.2,277.1 570.2,276.9 576.0,276.7 581.4,276.4 586.4,276.2 590.8,276.1 594.6,275.9 597.6,275.8" fill="none" stroke="#414487" stroke-width="5.69" stroke-linejoin="round" stroke-linecap="butt"/>
<polyline points="612.1,274.9 655.6,273.2" fill="none" stroke="#414487" stroke-width="5.69" stroke-linejoin="round" stroke-linecap="butt"/>
<line x1="604.86" y1="323.60" x2="604.86" y2="245.50" stroke="#666666" stroke-width="2.84" stroke-dasharray="11.38 11.38"/>
</g>
<rect x="108.61" y="246.21" width="572.38" height="76.68" fill="none" stroke="#333333" stroke-width="1.42"/>
<line x1="100.60" y1="265.80" x2="107.90" y2="265.80" stroke="#333333" stroke-width="2.84"/>
<text x="93.80" y="274.00" font-size="23.90" fill="#4D4D4D" text-anchor="end" textLength="36.90" lengthAdjust="spacingAndGlyphs">3.5</text>
<line x1="100.60" y1="287.80" x2="107.90" y2="287.80" stroke="#333333" stroke-width="2.84"/>
<text x="93.80" y="296.00" font-size="23.90" fill="#4D4D4D" text-anchor="end" textLength="36.90" lengthAdjust="spacingAndGlyphs">3.0</text>
<line x1="100.60" y1="309.50" x2="107.90" y2="309.50" stroke="#333333" stroke-width="2.84"/>
<text x="93.80" y="317.70" font-size="23.90" fill="#4D4D4D" text-anchor="end" textLength="36.90" lengthAdjust="spacingAndGlyphs">2.5</text>
<rect x="756.11" y="201.01" width="572.38" height="43.48" fill="#D9D9D9" stroke="#333333" stroke-width="1.42"/>
<text x="1042.30" y="230.80" font-size="23.90" fill="#1A1A1A" text-anchor="middle" textLength="215.90" lengthAdjust="spacingAndGlyphs">fts_bs_s_month__3</text>
<g clip-path="url(#cp3)">
<rect x="755.40" y="245.50" width="573.80" height="78.10" fill="#ffffff"/>
<line x1="755.40" y1="265.40" x2="1329.20" y2="265.40" stroke="#EBEBEB" stroke-width="1.42"/>
<line x1="755.40" y1="281.45" x2="1329.20" y2="281.45" stroke="#EBEBEB" stroke-width="1.42"/>
<line x1="755.40" y1="297.35" x2="1329.20" y2="297.35" stroke="#EBEBEB" stroke-width="1.42"/>
<line x1="755.40" y1="313.20" x2="1329.20" y2="313.20" stroke="#EBEBEB" stroke-width="1.42"/>
<line x1="755.40" y1="249.33" x2="1329.20" y2="249.33" stroke="#EBEBEB" stroke-width="1.42"/>
<line x1="824.90" y1="245.50" x2="824.90" y2="323.60" stroke="#EBEBEB" stroke-width="1.42"/>
<line x1="969.80" y1="245.50" x2="969.80" y2="323.60" stroke="#EBEBEB" stroke-width="1.42"/>
<line x1="1114.70" y1="245.50" x2="1114.70" y2="323.60" stroke="#EBEBEB" stroke-width="1.42"/>
<line x1="1259.60" y1="245.50" x2="1259.60" y2="323.60" stroke="#EBEBEB" stroke-width="1.42"/>
<line x1="755.40" y1="257.30" x2="1329.20" y2="257.30" stroke="#EBEBEB" stroke-width="2.84"/>
<line x1="755.40" y1="273.50" x2="1329.20" y2="273.50" stroke="#EBEBEB" stroke-width="2.84"/>
<line x1="755.40" y1="289.40" x2="1329.20" y2="289.40" stroke="#EBEBEB" stroke-width="2.84"/>
<line x1="755.40" y1="305.30" x2="1329.20" y2="305.30" stroke="#EBEBEB" stroke-width="2.84"/>
<line x1="755.40" y1="321.10" x2="1329.20" y2="321.10" stroke="#EBEBEB" stroke-width="2.84"/>
<line x1="897.35" y1="245.50" x2="897.35" y2="323.60" stroke="#EBEBEB" stroke-width="2.84"/>
<line x1="1042.25" y1="245.50" x2="1042.25" y2="323.60" stroke="#EBEBEB" stroke-width="2.84"/>
<line x1="1187.15" y1="245.50" x2="1187.15" y2="323.60" stroke="#EBEBEB" stroke-width="2.84"/>
<path d="M781.4,279.3 L784.6,279.4 L788.6,279.5 L793.3,279.7 L798.6,279.9 L804.6,280.0 L811.0,280.3 L817.8,280.5 L824.9,280.8 L829.2,281.0 L833.7,281.2 L838.5,281.5 L843.5,281.8 L848.6,282.1 L853.9,282.4 L859.3,282.7 L864.8,282.9 L870.3,283.2 L875.8,283.5 L881.3,283.7 L886.7,283.8 L892.1,283.9 L897.3,284.0 L902.5,284.0 L907.7,283.9 L912.9,283.8 L918.0,283.6 L923.2,283.3 L928.4,283.1 L933.6,282.8 L938.7,282.5 L943.9,282.3 L949.1,282.0 L954.3,281.8 L959.4,281.6 L964.6,281.5 L969.8,281.4 L975.0,281.4 L980.1,281.5 L985.3,281.6 L990.5,281.7 L995.7,281.9 L1000.9,282.1 L1006.0,282.3 L1011.2,282.5 L1016.4,282.7 L1021.5,282.8 L1026.7,282.9 L1031.9,282.9 L1037.1,282.9 L1042.2,282.7 L1047.4,282.4 L1052.6,282.1 L1057.8,281.7 L1063.0,281.2 L1068.1,280.7 L1073.3,280.1 L1078.5,279.5 L1083.6,278.9 L1088.8,278.3 L1094.0,277.7 L1099.2,277.1 L1104.3,276.5 L1109.5,275.9 L1114.7,275.4 L1119.9,274.9 L1125.2,274.4 L1130.5,274.0 L1135.8,273.5 L1141.2,273.1 L1146.5,272.6 L1151.8,272.2 L1157.1,271.7 L1162.3,271.3 L1167.5,270.8 L1172.6,270.4 L1177.6,269.9 L1182.4,269.4 L1187.1,268.9 L1193.2,268.2 L1199.4,267.5 L1205.6,266.7 L1211.7,265.9 L1217.7,265.1 L1223.5,264.3 L1228.9,263.6 L1233.9,262.9 L1238.3,262.2 L1242.1,261.7 L1245.1,261.3 L1245.1,311.6 L1242.1,311.7 L1238.3,311.8 L1233.9,311.9 L1228.9,312.1 L1223.5,312.2 L1217.7,312.4 L1211.7,312.5 L1205.6,312.6 L1199.4,312.6 L1193.2,312.6 L1187.1,312.5 L1182.4,312.4 L1177.6,312.2 L1172.6,312.0 L1167.5,311.7 L1162.3,311.4 L1157.1,311.1 L1151.8,310.8 L1146.5,310.4 L1141.2,310.1 L1135.8,309.8 L1130.5,309.5 L1125.2,309.2 L1119.9,309.0 L1114.7,308.8 L1109.5,308.6 L1104.3,308.5 L1099.2,308.4 L1094.0,308.2 L1088.8,308.1 L1083.6,308.0 L1078.5,307.9 L1073.3,307.9 L1068.1,307.8 L1063.0,307.8 L1057.8,307.7 L1052.6,307.7 L1047.4,307.7 L1042.2,307.7 L1037.1,307.7 L1031.9,307.7 L1026.7,307.7 L1021.5,307.8 L1016.4,307.8 L1011.2,307.8 L1006.0,307.9 L1000.9,308.0 L995.7,308.1 L990.5,308.2 L985.3,308.3 L980.1,308.5 L975.0,308.6 L969.8,308.8 L964.6,309.0 L959.4,309.3 L954.3,309.5 L949.1,309.8 L943.9,310.1 L938.7,310.5 L933.6,310.8 L928.4,311.2 L923.2,311.5 L918.0,311.9 L912.9,312.2 L907.7,312.5 L902.5,312.8 L897.3,313.1 L892.1,313.4 L886.7,313.6 L881.3,313.9 L875.8,314.1 L870.3,314.4 L864.8,314.6 L859.3,314.9 L853.9,315.1 L848.6,315.3 L843.5,315.5 L838.5,315.8 L833.7,316.0 L829.2,316.2 L824.9,316.4 L817.8,316.8 L811.0,317.2 L804.6,317.5 L798.6,317.9 L793.3,318.2 L788.6,318.5 L784.6,318.8 L781.4,319.0 Z" fill="#35608D" fill-opacity="0.2"/>
<path d="M781.4,282.9 L784.6,283.0 L788.6,283.1 L793.3,283.2 L798.6,283.3 L804.6,283.5 L811.0,283.6 L817.8,283.8 L824.9,284.0 L829.2,284.1 L833.7,284.3 L838.5,284.4 L843.5,284.6 L848.6,284.8 L853.9,284.9 L859.3,285.1 L864.8,285.3 L870.3,285.5 L875.8,285.6 L881.3,285.8 L886.7,285.9 L892.1,286.1 L897.3,286.2 L902.5,286.3 L907.7,286.4 L912.9,286.5 L918.0,286.7 L923.2,286.8 L928.4,286.9 L933.6,287.0 L938.7,287.1 L943.9,287.1 L949.1,287.2 L954.3,287.2 L959.4,287.2 L964.6,287.2 L969.8,287.2 L975.0,287.2 L980.1,287.1 L985.3,287.1 L990.5,287.0 L995.7,286.9 L1000.9,286.8 L1006.0,286.7 L1011.2,286.5 L1016.4,286.4 L1021.5,286.2 L1026.7,286.0 L1031.9,285.7 L1037.1,285.4 L1042.2,285.1 L1047.4,284.7 L1052.6,284.3 L1057.8,283.8 L1063.0,283.3 L1068.1,282.7 L1073.3,282.2 L1078.5,281.6 L1083.6,281.0 L1088.8,280.4 L1094.0,279.7 L1099.2,279.1 L1104.3,278.6 L1109.5,278.0 L1114.7,277.5 L1119.9,277.0 L1125.2,276.5 L1130.5,276.0 L1135.8,275.6 L1141.2,275.1 L1146.5,274.6 L1151.8,274.2 L1157.1,273.7 L1162.3,273.3 L1167.5,272.8 L1172.6,272.4 L1177.6,272.0 L1182.4,271.5 L1187.1,271.1 L1193.2,270.6 L1199.4,270.0 L1205.6,269.4 L1211.7,268.8 L1217.7,268.3 L1223.5,267.7 L1228.9,267.2 L1233.9,266.8 L1238.3,266.3 L1242.1,266.0 L1245.1,265.7 L1245.1,311.6 L1242.1,311.4 L1238.3,311.2 L1233.9,311.0 L1228.9,310.7 L1223.5,310.4 L1217.7,310.1 L1211.7,309.8 L1205.6,309.5 L1199.4,309.3 L1193.2,309.0 L1187.1,308.8 L1182.4,308.7 L1177.6,308.5 L1172.6,308.4 L1167.5,308.3 L1162.3,308.3 L1157.1,308.2 L1151.8,308.1 L1146.5,308.0 L1141.2,307.9 L1135.8,307.9 L1130.5,307.7 L1125.2,307.6 L1119.9,307.5 L1114.7,307.3 L1109.5,307.1 L1104.3,306.8 L1099.2,306.6 L1094.0,306.3 L1088.8,306.0 L1083.6,305.6 L1078.5,305.3 L1073.3,305.0 L1068.1,304.7 L1063.0,304.4 L1057.8,304.1 L1052.6,303.9 L1047.4,303.7 L1042.2,303.6 L1037.1,303.5 L1031.9,303.4 L1026.7,303.4 L1021.5,303.4 L1016.4,303.4 L1011.2,303.4 L1006.0,303.5 L1000.9,303.6 L995.7,303.7 L990.5,303.8 L985.3,303.9 L980.1,304.1 L975.0,304.3 L969.8,304.5 L964.6,304.8 L959.4,305.0 L954.3,305.4 L949.1,305.8 L943.9,306.2 L938.7,306.6 L933.6,307.0 L928.4,307.5 L923.2,307.9 L918.0,308.3 L912.9,308.8 L907.7,309.2 L902.5,309.5 L897.3,309.9 L892.1,310.2 L886.7,310.5 L881.3,310.9 L875.8,311.2 L870.3,311.5 L864.8,311.7 L859.3,312.0 L853.9,312.3 L848.6,312.6 L843.5,312.8 L838.5,313.1 L833.7,313.3 L829.2,313.6 L824.9,313.8 L817.8,314.2 L811.0,314.6 L804.6,315.0 L798.6,315.3 L793.3,315.7 L788.6,316.0 L784.6,316.2 L781.4,316.4 Z" fill="#35608D" fill-opacity="0.3"/>
<path d="M1259.6,257.7 L1303.1,249.5 L1303.1,314.2 L1259.6,312.5 Z" fill="#35608D" fill-opacity="0.2"/>
<path d="M1259.6,262.9 L1303.1,258.1 L1303.1,312.5 L1259.6,310.3 Z" fill="#35608D" fill-opacity="0.3"/>
<polyline points="781.4,301.9 784.6,301.9 788.6,301.8 793.3,301.8 798.6,301.8 804.6,301.7 811.0,301.6 817.8,301.5 824.9,301.3 829.2,301.2 833.7,301.0 838.5,300.9 843.5,300.7 848.6,300.5 853.9,300.3 859.3,300.1 864.8,299.9 870.3,299.7 875.8,299.5 881.3,299.3 886.7,299.1 892.1,298.9 897.3,298.7 902.5,298.5 907.7,298.4 912.9,298.2 918.0,298.0 923.2,297.9 928.4,297.7 933.6,297.5 938.7,297.4 943.9,297.2 949.1,297.1 954.3,296.9 959.4,296.8 964.6,296.6 969.8,296.5 975.0,296.4 980.1,296.2 985.3,296.1 990.5,296.0 995.7,295.9 1000.9,295.7 1006.0,295.6 1011.2,295.5 1016.4,295.4 1021.5,295.3 1026.7,295.2 1031.9,295.0 1037.1,294.9 1042.2,294.8 1047.4,294.7 1052.6,294.6 1057.8,294.5 1063.0,294.3 1068.1,294.2 1073.3,294.1 1078.5,294.0 1083.6,293.9 1088.8,293.8 1094.0,293.7 1099.2,293.5 1104.3,293.4 1109.5,293.2 1114.7,293.1 1119.9,292.9 1125.2,292.8 1130.5,292.6 1135.8,292.4 1141.2,292.2 1146.5,292.0 1151.8,291.8 1157.1,291.6 1162.3,291.4 1167.5,291.2 1172.6,291.0 1177.6,290.9 1182.4,290.7 1187.1,290.5 1193.2,290.3 1199.4,290.0 1205.6,289.8 1211.7,289.6 1217.7,289.3 1223.5,289.1 1228.9,288.9 1233.9,288.7 1238.3,288.6 1242.1,288.4 1245.1,288.3" fill="none" stroke="#35608D" stroke-width="5.69" stroke-linejoin="round" stroke-linecap="butt"/>
<polyline points="1259.6,287.2 1303.1,285.1" fill="none" stroke="#35608D" stroke-width="5.69" stroke-linejoin="round" stroke-linecap="butt"/>
<line x1="1252.36" y1="323.60" x2="1252.36" y2="245.50" stroke="#666666" stroke-width="2.84" stroke-dasharray="11.38 11.38"/>
</g>
<rect x="756.11" y="246.21" width="572.38" height="76.68" fill="none" stroke="#333333" stroke-width="1.42"/>
<line x1="748.10" y1="257.30" x2="755.40" y2="257.30" stroke="#333333" stroke-width="2.84"/>
<text x="741.30" y="265.50" font-size="23.90" fill="#4D4D4D" text-anchor="end" textLength="36.90" lengthAdjust="spacingAndGlyphs">4.0</text>
<line x1="748.10" y1="273.50" x2="755.40" y2="273.50" stroke="#333333" stroke-width="2.84"/>
<text x="741.30" y="281.70" font-size="23.90" fill="#4D4D4D" text-anchor="end" textLength="36.90" lengthAdjust="spacingAndGlyphs">3.5</text>
<line x1="748.10" y1="289.40" x2="755.40" y2="289.40" stroke="#333333" stroke-width="2.84"/>
<text x="741.30" y="297.60" font-size="23.90" fill="#4D4D4D" text-anchor="end" textLength="36.90" lengthAdjust="spacingAndGlyphs">3.0</text>
<line x1="748.10" y1="305.30" x2="755.40" y2="305.30" stroke="#333333" stroke-width="2.84"/>
<text x="741.30" y="313.50" font-size="23.90" fill="#4D4D4D" text-anchor="end" textLength="36.90" lengthAdjust="spacingAndGlyphs">2.5</text>
<line x1="748.10" y1="321.10" x2="755.40" y2="321.10" stroke="#333333" stroke-width="2.84"/>
<text x="741.30" y="329.30" font-size="23.90" fill="#4D4D4D" text-anchor="end" textLength="36.90" lengthAdjust="spacingAndGlyphs">2.0</text>
<rect x="108.61" y="339.11" width="572.38" height="43.48" fill="#D9D9D9" stroke="#333333" stroke-width="1.42"/>
<text x="394.80" y="368.90" font-size="23.90" fill="#1A1A1A" text-anchor="middle" textLength="215.90" lengthAdjust="spacingAndGlyphs">fts_bs_s_month__4</text>
<g clip-path="url(#cp4)">
<rect x="107.90" y="383.60" width="573.80" height="78.10" fill="#ffffff"/>
<line x1="107.90" y1="400.40" x2="681.70" y2="400.40" stroke="#EBEBEB" stroke-width="1.42"/>
<line x1="107.90" y1="417.95" x2="681.70" y2="417.95" stroke="#EBEBEB" stroke-width="1.42"/>
<line x1="107.90" y1="435.55" x2="681.70" y2="435.55" stroke="#EBEBEB" stroke-width="1.42"/>
<line x1="107.90" y1="453.20" x2="681.70" y2="453.20" stroke="#EBEBEB" stroke-width="1.42"/>
<line x1="177.40" y1="383.60" x2="177.40" y2="461.70" stroke="#EBEBEB" stroke-width="1.42"/>
<line x1="322.30" y1="383.60" x2="322.30" y2="461.70" stroke="#EBEBEB" stroke-width="1.42"/>
<line x1="467.20" y1="383.60" x2="467.20" y2="461.70" stroke="#EBEBEB" stroke-width="1.42"/>
<line x1="612.10" y1="383.60" x2="612.10" y2="461.70" stroke="#EBEBEB" stroke-width="1.42"/>
<line x1="107.90" y1="391.60" x2="681.70" y2="391.60" stroke="#EBEBEB" stroke-width="2.84"/>
<line x1="107.90" y1="409.20" x2="681.70" y2="409.20" stroke="#EBEBEB" stroke-width="2.84"/>
<line x1="107.90" y1="426.70" x2="681.70" y2="426.70" stroke="#EBEBEB" stroke-width="2.84"/>
<line x1="107.90" y1="444.40" x2="681.70" y2="444.40" stroke="#EBEBEB" stroke-width="2.84"/>
<line x1="249.85" y1="383.60" x2="249.85" y2="461.70" stroke="#EBEBEB" stroke-width="2.84"/>
<line x1="394.75" y1="383.60" x2="394.75" y2="461.70" stroke="#EBEBEB" stroke-width="2.84"/>
<line x1="539.65" y1="383.60" x2="539.65" y2="461.70" stroke="#EBEBEB" stroke-width="2.84"/>
<path d="M133.9,422.0 L137.1,422.2 L141.1,422.4 L145.8,422.7 L151.1,423.0 L157.1,423.3 L163.5,423.6 L170.3,423.9 L177.4,424.2 L181.7,424.4 L186.2,424.5 L191.0,424.7 L196.0,424.9 L201.1,425.1 L206.4,425.2 L211.8,425.4 L217.3,425.6 L222.8,425.7 L228.3,425.9 L233.8,426.0 L239.2,426.1 L244.6,426.2 L249.8,426.3 L255.0,426.4 L260.2,426.4 L265.4,426.4 L270.6,426.5 L275.7,426.5 L280.9,426.5 L286.1,426.5 L291.2,426.5 L296.4,426.4 L301.6,426.4 L306.8,426.3 L311.9,426.2 L317.1,426.0 L322.3,425.9 L327.5,425.7 L332.7,425.5 L337.8,425.3 L343.0,425.1 L348.2,424.8 L353.4,424.5 L358.5,424.2 L363.7,423.9 L368.9,423.6 L374.1,423.3 L379.2,422.9 L384.4,422.6 L389.6,422.2 L394.8,421.8 L399.9,421.4 L405.1,421.0 L410.3,420.6 L415.4,420.1 L420.6,419.7 L425.8,419.2 L431.0,418.7 L436.1,418.2 L441.3,417.7 L446.5,417.2 L451.7,416.7 L456.8,416.2 L462.0,415.6 L467.2,415.1 L472.4,414.5 L477.7,414.0 L483.0,413.4 L488.3,412.8 L493.7,412.2 L499.0,411.5 L504.3,410.9 L509.6,410.3 L514.8,409.6 L520.0,409.0 L525.1,408.4 L530.1,407.7 L534.9,407.1 L539.6,406.5 L545.7,405.7 L551.9,404.9 L558.1,404.0 L564.2,403.1 L570.2,402.3 L576.0,401.5 L581.4,400.7 L586.4,399.9 L590.8,399.3 L594.6,398.7 L597.6,398.3 L597.6,444.7 L594.6,444.6 L590.8,444.4 L586.4,444.3 L581.4,444.1 L576.0,443.8 L570.2,443.6 L564.2,443.4 L558.1,443.2 L551.9,442.9 L545.7,442.7 L539.6,442.5 L534.9,442.3 L530.1,442.1 L525.1,441.9 L520.0,441.7 L514.8,441.5 L509.6,441.3 L504.3,441.1 L499.0,440.9 L493.7,440.8 L488.3,440.6 L483.0,440.5 L477.7,440.4 L472.4,440.3 L467.2,440.3 L462.0,440.3 L456.8,440.4 L451.7,440.5 L446.5,440.6 L441.3,440.8 L436.1,441.0 L431.0,441.2 L425.8,441.4 L420.6,441.6 L415.4,441.8 L410.3,442.0 L405.1,442.2 L399.9,442.4 L394.8,442.5 L389.6,442.6 L384.4,442.7 L379.2,442.7 L374.1,442.8 L368.9,442.8 L363.7,442.8 L358.5,442.8 L353.4,442.8 L348.2,442.9 L343.0,443.0 L337.8,443.1 L332.7,443.2 L327.5,443.4 L322.3,443.6 L317.1,443.9 L311.9,444.2 L306.8,444.6 L301.6,445.0 L296.4,445.4 L291.2,445.9 L286.1,446.3 L280.9,446.8 L275.7,447.3 L270.6,447.8 L265.4,448.3 L260.2,448.7 L255.0,449.2 L249.8,449.6 L244.6,450.0 L239.2,450.4 L233.8,450.8 L228.3,451.2 L222.8,451.6 L217.3,452.0 L211.8,452.4 L206.4,452.8 L201.1,453.2 L196.0,453.5 L191.0,453.9 L186.2,454.2 L181.7,454.5 L177.4,454.8 L170.3,455.3 L163.5,455.7 L157.1,456.1 L151.1,456.5 L145.8,456.9 L141.1,457.2 L137.1,457.4 L133.9,457.6 Z" fill="#2A788E" fill-opacity="0.2"/>
<path d="M133.9,425.9 L137.1,425.9 L141.1,426.0 L145.8,426.0 L151.1,426.0 L157.1,426.1 L163.5,426.1 L170.3,426.2 L177.4,426.3 L181.7,426.4 L186.2,426.4 L191.0,426.5 L196.0,426.6 L201.1,426.6 L206.4,426.7 L211.8,426.8 L217.3,426.9 L222.8,426.9 L228.3,427.0 L233.8,427.1 L239.2,427.2 L244.6,427.3 L249.8,427.4 L255.0,427.5 L260.2,427.6 L265.4,427.8 L270.6,428.0 L275.7,428.1 L280.9,428.3 L286.1,428.5 L291.2,428.6 L296.4,428.8 L301.6,428.9 L306.8,428.9 L311.9,429.0 L317.1,429.0 L322.3,428.9 L327.5,428.8 L332.7,428.6 L337.8,428.4 L343.0,428.1 L348.2,427.9 L353.4,427.6 L358.5,427.2 L363.7,426.9 L368.9,426.5 L374.1,426.1 L379.2,425.8 L384.4,425.4 L389.6,425.0 L394.8,424.7 L399.9,424.4 L405.1,424.0 L410.3,423.7 L415.4,423.3 L420.6,423.0 L425.8,422.6 L431.0,422.2 L436.1,421.9 L441.3,421.5 L446.5,421.1 L451.7,420.7 L456.8,420.3 L462.0,419.8 L467.2,419.4 L472.4,418.9 L477.7,418.5 L483.0,418.0 L488.3,417.5 L493.7,417.0 L499.0,416.5 L504.3,416.0 L509.6,415.5 L514.8,414.9 L520.0,414.4 L525.1,413.9 L530.1,413.4 L534.9,412.8 L539.6,412.3 L545.7,411.6 L551.9,410.8 L558.1,410.1 L564.2,409.3 L570.2,408.5 L576.0,407.7 L581.4,406.9 L586.4,406.2 L590.8,405.6 L594.6,405.1 L597.6,404.7 L597.6,442.5 L594.6,442.4 L590.8,442.2 L586.4,442.0 L581.4,441.8 L576.0,441.6 L570.2,441.3 L564.2,441.1 L558.1,440.8 L551.9,440.6 L545.7,440.4 L539.6,440.3 L534.9,440.2 L530.1,440.1 L525.1,440.0 L520.0,439.9 L514.8,439.9 L509.6,439.8 L504.3,439.8 L499.0,439.7 L493.7,439.7 L488.3,439.7 L483.0,439.6 L477.7,439.7 L472.4,439.7 L467.2,439.7 L462.0,439.8 L456.8,439.8 L451.7,439.9 L446.5,440.0 L441.3,440.2 L436.1,440.3 L431.0,440.4 L425.8,440.6 L420.6,440.7 L415.4,440.9 L410.3,441.0 L405.1,441.2 L399.9,441.3 L394.8,441.4 L389.6,441.5 L384.4,441.6 L379.2,441.6 L374.1,441.7 L368.9,441.7 L363.7,441.7 L358.5,441.8 L353.4,441.8 L348.2,441.9 L343.0,442.0 L337.8,442.1 L332.7,442.2 L327.5,442.3 L322.3,442.5 L317.1,442.7 L311.9,442.9 L306.8,443.2 L301.6,443.4 L296.4,443.7 L291.2,444.0 L286.1,444.3 L280.9,444.6 L275.7,445.0 L270.6,445.3 L265.4,445.7 L260.2,446.0 L255.0,446.4 L249.8,446.8 L244.6,447.2 L239.2,447.7 L233.8,448.1 L228.3,448.6 L222.8,449.1 L217.3,449.7 L211.8,450.2 L206.4,450.7 L201.1,451.2 L196.0,451.7 L191.0,452.2 L186.2,452.6 L181.7,453.0 L177.4,453.3 L170.3,453.8 L163.5,454.2 L157.1,454.5 L151.1,454.8 L145.8,455.0 L141.1,455.1 L137.1,455.3 L133.9,455.4 Z" fill="#2A788E" fill-opacity="0.3"/>
<path d="M612.1,394.4 L655.6,387.9 L655.6,449.0 L612.1,445.7 Z" fill="#2A788E" fill-opacity="0.2"/>
<path d="M612.1,401.5 L655.6,397.2 L655.6,442.5 L612.1,441.9 Z" fill="#2A788E" fill-opacity="0.3"/>
<polyline points="133.9,439.9 137.1,439.9 141.1,439.9 145.8,439.9 151.1,439.8 157.1,439.8 163.5,439.8 170.3,439.7 177.4,439.6 181.7,439.5 186.2,439.5 191.0,439.4 196.0,439.3 201.1,439.2 206.4,439.2 211.8,439.1 217.3,439.0 222.8,438.9 228.3,438.8 233.8,438.7 239.2,438.5 244.6,438.4 249.8,438.3 255.0,438.2 260.2,438.0 265.4,437.9 270.6,437.8 275.7,437.6 280.9,437.5 286.1,437.3 291.2,437.1 296.4,437.0 301.6,436.8 306.8,436.6 311.9,436.5 317.1,436.3 322.3,436.1 327.5,435.9 332.7,435.7 337.8,435.5 343.0,435.3 348.2,435.1 353.4,434.9 358.5,434.7 363.7,434.5 368.9,434.3 374.1,434.1 379.2,433.9 384.4,433.6 389.6,433.4 394.8,433.2 399.9,433.0 405.1,432.7 410.3,432.5 415.4,432.3 420.6,432.0 425.8,431.8 431.0,431.5 436.1,431.3 441.3,431.0 446.5,430.8 451.7,430.5 456.8,430.3 462.0,430.0 467.2,429.8 472.4,429.6 477.7,429.3 483.0,429.1 488.3,428.9 493.7,428.6 499.0,428.4 504.3,428.2 509.6,427.9 514.8,427.7 520.0,427.5 525.1,427.2 530.1,427.0 534.9,426.8 539.6,426.6 545.7,426.3 551.9,426.0 558.1,425.8 564.2,425.5 570.2,425.2 576.0,424.9 581.4,424.7 586.4,424.4 590.8,424.2 594.6,424.0 597.6,423.9" fill="none" stroke="#2A788E" stroke-width="5.69" stroke-linejoin="round" stroke-linecap="butt"/>
<polyline points="612.1,423.1 655.6,421.6" fill="none" stroke="#2A788E" stroke-width="5.69" stroke-linejoin="round" stroke-linecap="butt"/>
<line x1="604.86" y1="461.70" x2="604.86" y2="383.60" stroke="#666666" stroke-width="2.84" stroke-dasharray="11.38 11.38"/>
</g>
<rect x="108.61" y="384.31" width="572.38" height="76.68" fill="none" stroke="#333333" stroke-width="1.42"/>
<line x1="100.60" y1="391.60" x2="107.90" y2="391.60" stroke="#333333" stroke-width="2.84"/>
<text x="93.80" y="399.80" font-size="23.90" fill="#4D4D4D" text-anchor="end" textLength="36.90" lengthAdjust="spacingAndGlyphs">2.5</text>
<line x1="100.60" y1="409.20" x2="107.90" y2="409.20" stroke="#333333" stroke-width="2.84"/>
<text x="93.80" y="417.40" font-size="23.90" fill="#4D4D4D" text-anchor="end" textLength="36.90" lengthAdjust="spacingAndGlyphs">2.0</text>
<line x1="100.60" y1="426.70" x2="107.90" y2="426.70" stroke="#333333" stroke-width="2.84"/>
<text x="93.80" y="434.90" font-size="23.90" fill="#4D4D4D" text-anchor="end" textLength="36.90" lengthAdjust="spacingAndGlyphs">1.5</text>
<line x1="100.60" y1="444.40" x2="107.90" y2="444.40" stroke="#333333" stroke-width="2.84"/>
<text x="93.80" y="452.60" font-size="23.90" fill="#4D4D4D" text-anchor="end" textLength="36.90" lengthAdjust="spacingAndGlyphs">1.0</text>
<rect x="756.11" y="339.11" width="572.38" height="43.48" fill="#D9D9D9" stroke="#333333" stroke-width="1.42"/>
<text x="1042.30" y="368.90" font-size="23.90" fill="#1A1A1A" text-anchor="middle" textLength="215.90" lengthAdjust="spacingAndGlyphs">fts_bs_s_month__5</text>
<g clip-path="url(#cp5)">
<rect x="755.40" y="383.60" width="573.80" height="78.10" fill="#ffffff"/>
<line x1="755.40" y1="400.50" x2="1329.20" y2="400.50" stroke="#EBEBEB" stroke-width="1.42"/>
<line x1="755.40" y1="416.45" x2="1329.20" y2="416.45" stroke="#EBEBEB" stroke-width="1.42"/>
<line x1="755.40" y1="432.25" x2="1329.20" y2="432.25" stroke="#EBEBEB" stroke-width="1.42"/>
<line x1="755.40" y1="448.05" x2="1329.20" y2="448.05" stroke="#EBEBEB" stroke-width="1.42"/>
<line x1="755.40" y1="384.56" x2="1329.20" y2="384.56" stroke="#EBEBEB" stroke-width="1.42"/>
<line x1="824.90" y1="383.60" x2="824.90" y2="461.70" stroke="#EBEBEB" stroke-width="1.42"/>
<line x1="969.80" y1="383.60" x2="969.80" y2="461.70" stroke="#EBEBEB" stroke-width="1.42"/>
<line x1="1114.70" y1="383.60" x2="1114.70" y2="461.70" stroke="#EBEBEB" stroke-width="1.42"/>
<line x1="1259.60" y1="383.60" x2="1259.60" y2="461.70" stroke="#EBEBEB" stroke-width="1.42"/>
<line x1="755.40" y1="392.50" x2="1329.20" y2="392.50" stroke="#EBEBEB" stroke-width="2.84"/>
<line x1="755.40" y1="408.50" x2="1329.20" y2="408.50" stroke="#EBEBEB" stroke-width="2.84"/>
<line x1="755.40" y1="424.40" x2="1329.20" y2="424.40" stroke="#EBEBEB" stroke-width="2.84"/>
<line x1="755.40" y1="440.10" x2="1329.20" y2="440.10" stroke="#EBEBEB" stroke-width="2.84"/>
<line x1="755.40" y1="456.00" x2="1329.20" y2="456.00" stroke="#EBEBEB" stroke-width="2.84"/>
<line x1="897.35" y1="383.60" x2="897.35" y2="461.70" stroke="#EBEBEB" stroke-width="2.84"/>
<line x1="1042.25" y1="383.60" x2="1042.25" y2="461.70" stroke="#EBEBEB" stroke-width="2.84"/>
<line x1="1187.15" y1="383.60" x2="1187.15" y2="461.70" stroke="#EBEBEB" stroke-width="2.84"/>
<path d="M781.4,415.1 L784.6,415.1 L788.6,415.2 L793.3,415.2 L798.6,415.3 L804.6,415.4 L811.0,415.6 L817.8,415.7 L824.9,416.0 L829.2,416.2 L833.7,416.4 L838.5,416.7 L843.5,417.0 L848.6,417.3 L853.9,417.6 L859.3,417.9 L864.8,418.3 L870.3,418.6 L875.8,418.9 L881.3,419.2 L886.7,419.4 L892.1,419.6 L897.3,419.8 L902.5,420.0 L907.7,420.1 L912.9,420.2 L918.0,420.4 L923.2,420.5 L928.4,420.6 L933.6,420.7 L938.7,420.7 L943.9,420.8 L949.1,420.7 L954.3,420.7 L959.4,420.6 L964.6,420.5 L969.8,420.3 L975.0,420.1 L980.1,419.8 L985.3,419.4 L990.5,419.0 L995.7,418.5 L1000.9,418.0 L1006.0,417.5 L1011.2,417.0 L1016.4,416.5 L1021.5,416.0 L1026.7,415.5 L1031.9,415.0 L1037.1,414.5 L1042.2,414.1 L1047.4,413.7 L1052.6,413.3 L1057.8,413.0 L1063.0,412.6 L1068.1,412.3 L1073.3,412.0 L1078.5,411.6 L1083.6,411.3 L1088.8,410.9 L1094.0,410.6 L1099.2,410.2 L1104.3,409.9 L1109.5,409.5 L1114.7,409.1 L1119.9,408.7 L1125.2,408.3 L1130.5,407.8 L1135.8,407.4 L1141.2,406.9 L1146.5,406.4 L1151.8,405.9 L1157.1,405.5 L1162.3,405.0 L1167.5,404.5 L1172.6,404.0 L1177.6,403.5 L1182.4,403.1 L1187.1,402.6 L1193.2,402.0 L1199.4,401.3 L1205.6,400.7 L1211.7,400.0 L1217.7,399.3 L1223.5,398.6 L1228.9,398.0 L1233.9,397.4 L1238.3,396.9 L1242.1,396.4 L1245.1,396.1 L1245.1,437.1 L1242.1,437.2 L1238.3,437.4 L1233.9,437.6 L1228.9,437.8 L1223.5,438.0 L1217.7,438.2 L1211.7,438.4 L1205.6,438.7 L1199.4,438.9 L1193.2,439.1 L1187.1,439.3 L1182.4,439.5 L1177.6,439.6 L1172.6,439.8 L1167.5,440.0 L1162.3,440.2 L1157.1,440.4 L1151.8,440.5 L1146.5,440.7 L1141.2,440.8 L1135.8,440.9 L1130.5,441.0 L1125.2,441.1 L1119.9,441.1 L1114.7,441.0 L1109.5,440.9 L1104.3,440.6 L1099.2,440.3 L1094.0,440.0 L1088.8,439.6 L1083.6,439.2 L1078.5,438.8 L1073.3,438.3 L1068.1,438.0 L1063.0,437.6 L1057.8,437.3 L1052.6,437.2 L1047.4,437.1 L1042.2,437.1 L1037.1,437.3 L1031.9,437.5 L1026.7,437.9 L1021.5,438.3 L1016.4,438.8 L1011.2,439.3 L1006.0,439.9 L1000.9,440.5 L995.7,441.1 L990.5,441.7 L985.3,442.2 L980.1,442.8 L975.0,443.2 L969.8,443.6 L964.6,443.9 L959.4,444.2 L954.3,444.4 L949.1,444.7 L943.9,444.9 L938.7,445.0 L933.6,445.2 L928.4,445.4 L923.2,445.5 L918.0,445.7 L912.9,446.0 L907.7,446.2 L902.5,446.5 L897.3,446.8 L892.1,447.2 L886.7,447.6 L881.3,448.0 L875.8,448.5 L870.3,449.0 L864.8,449.5 L859.3,450.0 L853.9,450.5 L848.6,451.0 L843.5,451.5 L838.5,452.0 L833.7,452.5 L829.2,452.9 L824.9,453.3 L817.8,454.0 L811.0,454.6 L804.6,455.3 L798.6,455.9 L793.3,456.4 L788.6,456.9 L784.6,457.3 L781.4,457.6 Z" fill="#21908C" fill-opacity="0.2"/>
<path d="M781.4,420.9 L784.6,420.9 L788.6,420.8 L793.3,420.8 L798.6,420.8 L804.6,420.7 L811.0,420.7 L817.8,420.8 L824.9,420.9 L829.2,421.0 L833.7,421.1 L838.5,421.3 L843.5,421.5 L848.6,421.7 L853.9,421.9 L859.3,422.1 L864.8,422.3 L870.3,422.5 L875.8,422.6 L881.3,422.8 L886.7,422.9 L892.1,423.0 L897.3,423.1 L902.5,423.1 L907.7,423.1 L912.9,423.1 L918.0,423.1 L923.2,423.1 L928.4,423.0 L933.6,423.0 L938.7,422.9 L943.9,422.8 L949.1,422.6 L954.3,422.5 L959.4,422.4 L964.6,422.2 L969.8,422.0 L975.0,421.8 L980.1,421.6 L985.3,421.3 L990.5,421.1 L995.7,420.8 L1000.9,420.5 L1006.0,420.2 L1011.2,419.9 L1016.4,419.5 L1021.5,419.2 L1026.7,418.8 L1031.9,418.5 L1037.1,418.1 L1042.2,417.7 L1047.4,417.3 L1052.6,416.9 L1057.8,416.5 L1063.0,416.0 L1068.1,415.6 L1073.3,415.1 L1078.5,414.6 L1083.6,414.2 L1088.8,413.7 L1094.0,413.2 L1099.2,412.7 L1104.3,412.2 L1109.5,411.7 L1114.7,411.2 L1119.9,410.7 L1125.2,410.2 L1130.5,409.6 L1135.8,409.1 L1141.2,408.5 L1146.5,407.9 L1151.8,407.4 L1157.1,406.8 L1162.3,406.3 L1167.5,405.7 L1172.6,405.2 L1177.6,404.7 L1182.4,404.2 L1187.1,403.7 L1193.2,403.1 L1199.4,402.5 L1205.6,401.9 L1211.7,401.4 L1217.7,400.8 L1223.5,400.3 L1228.9,399.8 L1233.9,399.3 L1238.3,398.9 L1242.1,398.6 L1245.1,398.3 L1245.1,436.7 L1242.1,436.7 L1238.3,436.8 L1233.9,436.9 L1228.9,437.0 L1223.5,437.1 L1217.7,437.1 L1211.7,437.2 L1205.6,437.3 L1199.4,437.4 L1193.2,437.5 L1187.1,437.5 L1182.4,437.5 L1177.6,437.6 L1172.6,437.6 L1167.5,437.6 L1162.3,437.6 L1157.1,437.6 L1151.8,437.6 L1146.5,437.6 L1141.2,437.6 L1135.8,437.6 L1130.5,437.6 L1125.2,437.6 L1119.9,437.5 L1114.7,437.5 L1109.5,437.4 L1104.3,437.3 L1099.2,437.2 L1094.0,437.0 L1088.8,436.8 L1083.6,436.6 L1078.5,436.4 L1073.3,436.2 L1068.1,436.1 L1063.0,436.0 L1057.8,435.9 L1052.6,435.9 L1047.4,435.9 L1042.2,436.0 L1037.1,436.2 L1031.9,436.4 L1026.7,436.8 L1021.5,437.1 L1016.4,437.6 L1011.2,438.0 L1006.0,438.5 L1000.9,438.9 L995.7,439.4 L990.5,439.9 L985.3,440.3 L980.1,440.7 L975.0,441.1 L969.8,441.4 L964.6,441.6 L959.4,441.8 L954.3,442.0 L949.1,442.2 L943.9,442.3 L938.7,442.4 L933.6,442.5 L928.4,442.6 L923.2,442.7 L918.0,442.8 L912.9,442.9 L907.7,443.1 L902.5,443.3 L897.3,443.6 L892.1,443.9 L886.7,444.3 L881.3,444.7 L875.8,445.1 L870.3,445.6 L864.8,446.1 L859.3,446.6 L853.9,447.0 L848.6,447.5 L843.5,448.0 L838.5,448.4 L833.7,448.9 L829.2,449.3 L824.9,449.6 L817.8,450.1 L811.0,450.6 L804.6,451.1 L798.6,451.5 L793.3,451.8 L788.6,452.1 L784.6,452.4 L781.4,452.6 Z" fill="#21908C" fill-opacity="0.3"/>
<path d="M1259.6,393.9 L1303.1,387.5 L1303.1,438.2 L1259.6,437.5 Z" fill="#21908C" fill-opacity="0.2"/>
<path d="M1259.6,395.0 L1303.1,391.4 L1303.1,437.5 L1259.6,437.5 Z" fill="#21908C" fill-opacity="0.3"/>
<polyline points="781.4,437.1 784.6,437.0 788.6,436.9 793.3,436.7 798.6,436.6 804.6,436.4 811.0,436.2 817.8,436.0 824.9,435.8 829.2,435.7 833.7,435.5 838.5,435.4 843.5,435.2 848.6,435.1 853.9,434.9 859.3,434.8 864.8,434.6 870.3,434.4 875.8,434.2 881.3,434.1 886.7,433.9 892.1,433.8 897.3,433.6 902.5,433.4 907.7,433.3 912.9,433.1 918.0,433.0 923.2,432.9 928.4,432.7 933.6,432.6 938.7,432.4 943.9,432.3 949.1,432.1 954.3,432.0 959.4,431.8 964.6,431.7 969.8,431.5 975.0,431.3 980.1,431.2 985.3,431.0 990.5,430.9 995.7,430.7 1000.9,430.5 1006.0,430.4 1011.2,430.2 1016.4,430.0 1021.5,429.9 1026.7,429.7 1031.9,429.5 1037.1,429.4 1042.2,429.2 1047.4,429.0 1052.6,428.9 1057.8,428.7 1063.0,428.5 1068.1,428.4 1073.3,428.2 1078.5,428.0 1083.6,427.9 1088.8,427.7 1094.0,427.5 1099.2,427.4 1104.3,427.2 1109.5,427.1 1114.7,426.9 1119.9,426.8 1125.2,426.6 1130.5,426.5 1135.8,426.3 1141.2,426.2 1146.5,426.1 1151.8,425.9 1157.1,425.8 1162.3,425.7 1167.5,425.5 1172.6,425.4 1177.6,425.3 1182.4,425.1 1187.1,425.0 1193.2,424.8 1199.4,424.6 1205.6,424.4 1211.7,424.2 1217.7,424.0 1223.5,423.8 1228.9,423.7 1233.9,423.5 1238.3,423.3 1242.1,423.2 1245.1,423.1" fill="none" stroke="#21908C" stroke-width="5.69" stroke-linejoin="round" stroke-linecap="butt"/>
<polyline points="1259.6,422.4 1303.1,420.9" fill="none" stroke="#21908C" stroke-width="5.69" stroke-linejoin="round" stroke-linecap="butt"/>
<line x1="1252.36" y1="461.70" x2="1252.36" y2="383.60" stroke="#666666" stroke-width="2.84" stroke-dasharray="11.38 11.38"/>
</g>
<rect x="756.11" y="384.31" width="572.38" height="76.68" fill="none" stroke="#333333" stroke-width="1.42"/>
<line x1="748.10" y1="392.50" x2="755.40" y2="392.50" stroke="#333333" stroke-width="2.84"/>
<text x="741.30" y="400.70" font-size="23.90" fill="#4D4D4D" text-anchor="end" textLength="36.90" lengthAdjust="spacingAndGlyphs">1.0</text>
<line x1="748.10" y1="408.50" x2="755.40" y2="408.50" stroke="#333333" stroke-width="2.84"/>
<text x="741.30" y="416.70" font-size="23.90" fill="#4D4D4D" text-anchor="end" textLength="36.90" lengthAdjust="spacingAndGlyphs">0.5</text>
<line x1="748.10" y1="424.40" x2="755.40" y2="424.40" stroke="#333333" stroke-width="2.84"/>
<text x="741.30" y="432.60" font-size="23.90" fill="#4D4D4D" text-anchor="end" textLength="36.90" lengthAdjust="spacingAndGlyphs">0.0</text>
<line x1="748.10" y1="440.10" x2="755.40" y2="440.10" stroke="#333333" stroke-width="2.84"/>
<text x="741.30" y="448.30" font-size="23.90" fill="#4D4D4D" text-anchor="end" textLength="45.27" lengthAdjust="spacingAndGlyphs">-0.5</text>
<line x1="748.10" y1="456.00" x2="755.40" y2="456.00" stroke="#333333" stroke-width="2.84"/>
<text x="741.30" y="464.20" font-size="23.90" fill="#4D4D4D" text-anchor="end" textLength="45.27" lengthAdjust="spacingAndGlyphs">-1.0</text>
<rect x="108.61" y="477.21" width="572.38" height="43.48" fill="#D9D9D9" stroke="#333333" stroke-width="1.42"/>
<text x="394.80" y="507.00" font-size="23.90" fill="#1A1A1A" text-anchor="middle" textLength="215.90" lengthAdjust="spacingAndGlyphs">fts_bs_s_month__6</text>
<g clip-path="url(#cp6)">
<rect x="107.90" y="521.70" width="573.80" height="78.10" fill="#ffffff"/>
<line x1="107.90" y1="545.50" x2="681.70" y2="545.50" stroke="#EBEBEB" stroke-width="1.42"/>
<line x1="107.90" y1="567.50" x2="681.70" y2="567.50" stroke="#EBEBEB" stroke-width="1.42"/>
<line x1="107.90" y1="523.50" x2="681.70" y2="523.50" stroke="#EBEBEB" stroke-width="1.42"/>
<line x1="107.90" y1="589.50" x2="681.70" y2="589.50" stroke="#EBEBEB" stroke-width="1.42"/>
<line x1="177.40" y1="521.70" x2="177.40" y2="599.80" stroke="#EBEBEB" stroke-width="1.42"/>
<line x1="322.30" y1="521.70" x2="322.30" y2="599.80" stroke="#EBEBEB" stroke-width="1.42"/>
<line x1="467.20" y1="521.70" x2="467.20" y2="599.80" stroke="#EBEBEB" stroke-width="1.42"/>
<line x1="612.10" y1="521.70" x2="612.10" y2="599.80" stroke="#EBEBEB" stroke-width="1.42"/>
<line x1="107.90" y1="534.50" x2="681.70" y2="534.50" stroke="#EBEBEB" stroke-width="2.84"/>
<line x1="107.90" y1="556.50" x2="681.70" y2="556.50" stroke="#EBEBEB" stroke-width="2.84"/>
<line x1="107.90" y1="578.50" x2="681.70" y2="578.50" stroke="#EBEBEB" stroke-width="2.84"/>
<line x1="249.85" y1="521.70" x2="249.85" y2="599.80" stroke="#EBEBEB" stroke-width="2.84"/>
<line x1="394.75" y1="521.70" x2="394.75" y2="599.80" stroke="#EBEBEB" stroke-width="2.84"/>
<line x1="539.65" y1="521.70" x2="539.65" y2="599.80" stroke="#EBEBEB" stroke-width="2.84"/>
<path d="M133.9,546.6 L137.1,546.7 L141.1,546.7 L145.8,546.8 L151.1,546.9 L157.1,547.1 L163.5,547.2 L170.3,547.3 L177.4,547.5 L181.7,547.6 L186.2,547.7 L191.0,547.8 L196.0,548.0 L201.1,548.1 L206.4,548.3 L211.8,548.4 L217.3,548.5 L222.8,548.7 L228.3,548.8 L233.8,548.9 L239.2,549.0 L244.6,549.1 L249.8,549.2 L255.0,549.3 L260.2,549.3 L265.4,549.3 L270.6,549.4 L275.7,549.4 L280.9,549.4 L286.1,549.4 L291.2,549.4 L296.4,549.4 L301.6,549.4 L306.8,549.3 L311.9,549.3 L317.1,549.2 L322.3,549.2 L327.5,549.1 L332.7,549.1 L337.8,549.0 L343.0,548.9 L348.2,548.8 L353.4,548.8 L358.5,548.7 L363.7,548.6 L368.9,548.4 L374.1,548.3 L379.2,548.2 L384.4,548.1 L389.6,547.9 L394.8,547.8 L399.9,547.7 L405.1,547.5 L410.3,547.4 L415.4,547.2 L420.6,547.1 L425.8,546.9 L431.0,546.8 L436.1,546.6 L441.3,546.4 L446.5,546.2 L451.7,546.0 L456.8,545.8 L462.0,545.5 L467.2,545.3 L472.4,545.0 L477.7,544.7 L483.0,544.4 L488.3,544.1 L493.7,543.7 L499.0,543.4 L504.3,543.0 L509.6,542.6 L514.8,542.3 L520.0,541.9 L525.1,541.6 L530.1,541.2 L534.9,540.9 L539.6,540.6 L545.7,540.2 L551.9,539.9 L558.1,539.5 L564.2,539.2 L570.2,538.8 L576.0,538.5 L581.4,538.2 L586.4,537.9 L590.8,537.7 L594.6,537.5 L597.6,537.3 L597.6,590.2 L594.6,590.0 L590.8,589.7 L586.4,589.3 L581.4,589.0 L576.0,588.5 L570.2,588.1 L564.2,587.6 L558.1,587.2 L551.9,586.7 L545.7,586.3 L539.6,585.9 L534.9,585.6 L530.1,585.3 L525.1,585.0 L520.0,584.7 L514.8,584.4 L509.6,584.1 L504.3,583.8 L499.0,583.5 L493.7,583.2 L488.3,582.9 L483.0,582.6 L477.7,582.2 L472.4,581.9 L467.2,581.6 L462.0,581.3 L456.8,580.9 L451.7,580.5 L446.5,580.1 L441.3,579.7 L436.1,579.3 L431.0,578.9 L425.8,578.5 L420.6,578.2 L415.4,577.8 L410.3,577.5 L405.1,577.2 L399.9,577.0 L394.8,576.8 L389.6,576.6 L384.4,576.5 L379.2,576.4 L374.1,576.3 L368.9,576.2 L363.7,576.2 L358.5,576.2 L353.4,576.2 L348.2,576.2 L343.0,576.3 L337.8,576.4 L332.7,576.5 L327.5,576.6 L322.3,576.8 L317.1,577.0 L311.9,577.2 L306.8,577.4 L301.6,577.7 L296.4,578.0 L291.2,578.3 L286.1,578.7 L280.9,579.1 L275.7,579.4 L270.6,579.8 L265.4,580.3 L260.2,580.7 L255.0,581.1 L249.8,581.6 L244.6,582.1 L239.2,582.6 L233.8,583.2 L228.3,583.8 L222.8,584.4 L217.3,585.0 L211.8,585.6 L206.4,586.3 L201.1,586.9 L196.0,587.5 L191.0,588.1 L186.2,588.7 L181.7,589.3 L177.4,589.8 L170.3,590.7 L163.5,591.6 L157.1,592.4 L151.1,593.2 L145.8,594.0 L141.1,594.6 L137.1,595.2 L133.9,595.6 Z" fill="#22A884" fill-opacity="0.2"/>
<path d="M133.9,550.3 L137.1,550.4 L141.1,550.5 L145.8,550.6 L151.1,550.8 L157.1,550.9 L163.5,551.1 L170.3,551.3 L177.4,551.4 L181.7,551.5 L186.2,551.6 L191.0,551.6 L196.0,551.7 L201.1,551.8 L206.4,551.9 L211.8,552.0 L217.3,552.0 L222.8,552.1 L228.3,552.2 L233.8,552.3 L239.2,552.3 L244.6,552.4 L249.8,552.4 L255.0,552.4 L260.2,552.5 L265.4,552.5 L270.6,552.6 L275.7,552.6 L280.9,552.6 L286.1,552.7 L291.2,552.7 L296.4,552.7 L301.6,552.7 L306.8,552.6 L311.9,552.6 L317.1,552.5 L322.3,552.4 L327.5,552.3 L332.7,552.1 L337.8,551.9 L343.0,551.7 L348.2,551.4 L353.4,551.2 L358.5,550.9 L363.7,550.7 L368.9,550.4 L374.1,550.1 L379.2,549.9 L384.4,549.6 L389.6,549.4 L394.8,549.2 L399.9,549.0 L405.1,548.9 L410.3,548.7 L415.4,548.6 L420.6,548.4 L425.8,548.3 L431.0,548.2 L436.1,548.0 L441.3,547.9 L446.5,547.8 L451.7,547.6 L456.8,547.5 L462.0,547.3 L467.2,547.1 L472.4,546.9 L477.7,546.7 L483.0,546.5 L488.3,546.2 L493.7,546.0 L499.0,545.8 L504.3,545.5 L509.6,545.3 L514.8,545.0 L520.0,544.8 L525.1,544.5 L530.1,544.3 L534.9,544.0 L539.6,543.8 L545.7,543.5 L551.9,543.2 L558.1,542.8 L564.2,542.5 L570.2,542.2 L576.0,541.8 L581.4,541.5 L586.4,541.2 L590.8,541.0 L594.6,540.8 L597.6,540.6 L597.6,587.0 L594.6,586.8 L590.8,586.6 L586.4,586.4 L581.4,586.1 L576.0,585.8 L570.2,585.4 L564.2,585.1 L558.1,584.7 L551.9,584.4 L545.7,584.0 L539.6,583.7 L534.9,583.4 L530.1,583.2 L525.1,582.9 L520.0,582.6 L514.8,582.4 L509.6,582.1 L504.3,581.8 L499.0,581.5 L493.7,581.2 L488.3,581.0 L483.0,580.7 L477.7,580.4 L472.4,580.2 L467.2,579.9 L462.0,579.6 L456.8,579.4 L451.7,579.1 L446.5,578.8 L441.3,578.5 L436.1,578.2 L431.0,577.9 L425.8,577.7 L420.6,577.4 L415.4,577.2 L410.3,577.0 L405.1,576.8 L399.9,576.6 L394.8,576.5 L389.6,576.4 L384.4,576.3 L379.2,576.2 L374.1,576.2 L368.9,576.1 L363.7,576.1 L358.5,576.1 L353.4,576.2 L348.2,576.2 L343.0,576.3 L337.8,576.4 L332.7,576.5 L327.5,576.6 L322.3,576.8 L317.1,577.0 L311.9,577.2 L306.8,577.5 L301.6,577.8 L296.4,578.1 L291.2,578.4 L286.1,578.8 L280.9,579.2 L275.7,579.5 L270.6,579.9 L265.4,580.4 L260.2,580.8 L255.0,581.2 L249.8,581.6 L244.6,582.0 L239.2,582.5 L233.8,583.0 L228.3,583.5 L222.8,584.0 L217.3,584.5 L211.8,585.0 L206.4,585.6 L201.1,586.1 L196.0,586.6 L191.0,587.1 L186.2,587.6 L181.7,588.1 L177.4,588.5 L170.3,589.2 L163.5,590.0 L157.1,590.7 L151.1,591.4 L145.8,592.0 L141.1,592.6 L137.1,593.0 L133.9,593.4 Z" fill="#22A884" fill-opacity="0.3"/>
<path d="M612.1,534.1 L655.6,525.5 L655.6,594.5 L612.1,592.4 Z" fill="#22A884" fill-opacity="0.2"/>
<path d="M612.1,535.2 L655.6,534.5 L655.6,591.3 L612.1,591.3 Z" fill="#22A884" fill-opacity="0.3"/>
<polyline points="133.9,569.7 137.1,569.6 141.1,569.5 145.8,569.4 151.1,569.3 157.1,569.1 163.5,568.9 170.3,568.8 177.4,568.6 181.7,568.5 186.2,568.4 191.0,568.3 196.0,568.1 201.1,568.0 206.4,567.9 211.8,567.7 217.3,567.6 222.8,567.5 228.3,567.3 233.8,567.2 239.2,567.1 244.6,567.0 249.8,566.9 255.0,566.8 260.2,566.7 265.4,566.7 270.6,566.6 275.7,566.5 280.9,566.5 286.1,566.4 291.2,566.4 296.4,566.3 301.6,566.3 306.8,566.2 311.9,566.2 317.1,566.1 322.3,566.0 327.5,565.9 332.7,565.8 337.8,565.7 343.0,565.6 348.2,565.5 353.4,565.4 358.5,565.2 363.7,565.1 368.9,565.0 374.1,564.9 379.2,564.8 384.4,564.7 389.6,564.6 394.8,564.5 399.9,564.4 405.1,564.3 410.3,564.3 415.4,564.2 420.6,564.2 425.8,564.1 431.0,564.0 436.1,564.0 441.3,563.9 446.5,563.9 451.7,563.8 456.8,563.8 462.0,563.7 467.2,563.7 472.4,563.7 477.7,563.6 483.0,563.6 488.3,563.5 493.7,563.5 499.0,563.4 504.3,563.4 509.6,563.4 514.8,563.3 520.0,563.3 525.1,563.3 530.1,563.2 534.9,563.2 539.6,563.2 545.7,563.2 551.9,563.2 558.1,563.2 564.2,563.2 570.2,563.2 576.0,563.2 581.4,563.2 586.4,563.2 590.8,563.2 594.6,563.2 597.6,563.2" fill="none" stroke="#22A884" stroke-width="5.69" stroke-linejoin="round" stroke-linecap="butt"/>
<polyline points="612.1,563.7 655.6,563.7" fill="none" stroke="#22A884" stroke-width="5.69" stroke-linejoin="round" stroke-linecap="butt"/>
<line x1="604.86" y1="599.80" x2="604.86" y2="521.70" stroke="#666666" stroke-width="2.84" stroke-dasharray="11.38 11.38"/>
</g>
<rect x="108.61" y="522.41" width="572.38" height="76.68" fill="none" stroke="#333333" stroke-width="1.42"/>
<line x1="100.60" y1="534.50" x2="107.90" y2="534.50" stroke="#333333" stroke-width="2.84"/>
<text x="93.80" y="542.70" font-size="23.90" fill="#4D4D4D" text-anchor="end" textLength="45.27" lengthAdjust="spacingAndGlyphs">-1.0</text>
<line x1="100.60" y1="556.50" x2="107.90" y2="556.50" stroke="#333333" stroke-width="2.84"/>
<text x="93.80" y="564.70" font-size="23.90" fill="#4D4D4D" text-anchor="end" textLength="45.27" lengthAdjust="spacingAndGlyphs">-1.5</text>
<line x1="100.60" y1="578.50" x2="107.90" y2="578.50" stroke="#333333" stroke-width="2.84"/>
<text x="93.80" y="586.70" font-size="23.90" fill="#4D4D4D" text-anchor="end" textLength="45.27" lengthAdjust="spacingAndGlyphs">-2.0</text>
<rect x="756.11" y="477.21" width="572.38" height="43.48" fill="#D9D9D9" stroke="#333333" stroke-width="1.42"/>
<text x="1042.30" y="507.00" font-size="23.90" fill="#1A1A1A" text-anchor="middle" textLength="215.90" lengthAdjust="spacingAndGlyphs">fts_bs_s_month__7</text>
<g clip-path="url(#cp7)">
<rect x="755.40" y="521.70" width="573.80" height="78.10" fill="#ffffff"/>
<line x1="755.40" y1="542.40" x2="1329.20" y2="542.40" stroke="#EBEBEB" stroke-width="1.42"/>
<line x1="755.40" y1="563.05" x2="1329.20" y2="563.05" stroke="#EBEBEB" stroke-width="1.42"/>
<line x1="755.40" y1="583.75" x2="1329.20" y2="583.75" stroke="#EBEBEB" stroke-width="1.42"/>
<line x1="755.40" y1="521.77" x2="1329.20" y2="521.77" stroke="#EBEBEB" stroke-width="1.42"/>
<line x1="824.90" y1="521.70" x2="824.90" y2="599.80" stroke="#EBEBEB" stroke-width="1.42"/>
<line x1="969.80" y1="521.70" x2="969.80" y2="599.80" stroke="#EBEBEB" stroke-width="1.42"/>
<line x1="1114.70" y1="521.70" x2="1114.70" y2="599.80" stroke="#EBEBEB" stroke-width="1.42"/>
<line x1="1259.60" y1="521.70" x2="1259.60" y2="599.80" stroke="#EBEBEB" stroke-width="1.42"/>
<line x1="755.40" y1="532.10" x2="1329.20" y2="532.10" stroke="#EBEBEB" stroke-width="2.84"/>
<line x1="755.40" y1="552.70" x2="1329.20" y2="552.70" stroke="#EBEBEB" stroke-width="2.84"/>
<line x1="755.40" y1="573.40" x2="1329.20" y2="573.40" stroke="#EBEBEB" stroke-width="2.84"/>
<line x1="755.40" y1="594.10" x2="1329.20" y2="594.10" stroke="#EBEBEB" stroke-width="2.84"/>
<line x1="897.35" y1="521.70" x2="897.35" y2="599.80" stroke="#EBEBEB" stroke-width="2.84"/>
<line x1="1042.25" y1="521.70" x2="1042.25" y2="599.80" stroke="#EBEBEB" stroke-width="2.84"/>
<line x1="1187.15" y1="521.70" x2="1187.15" y2="599.80" stroke="#EBEBEB" stroke-width="2.84"/>
<path d="M781.4,541.2 L784.6,541.3 L788.6,541.4 L793.3,541.4 L798.6,541.6 L804.6,541.7 L811.0,541.9 L817.8,542.1 L824.9,542.3 L829.2,542.5 L833.7,542.6 L838.5,542.8 L843.5,543.1 L848.6,543.3 L853.9,543.5 L859.3,543.8 L864.8,544.0 L870.3,544.3 L875.8,544.5 L881.3,544.7 L886.7,544.9 L892.1,545.1 L897.3,545.3 L902.5,545.4 L907.7,545.6 L912.9,545.7 L918.0,545.8 L923.2,545.9 L928.4,546.0 L933.6,546.0 L938.7,546.1 L943.9,546.2 L949.1,546.3 L954.3,546.3 L959.4,546.4 L964.6,546.5 L969.8,546.6 L975.0,546.7 L980.1,546.9 L985.3,547.0 L990.5,547.2 L995.7,547.4 L1000.9,547.6 L1006.0,547.7 L1011.2,547.9 L1016.4,548.0 L1021.5,548.1 L1026.7,548.2 L1031.9,548.2 L1037.1,548.2 L1042.2,548.1 L1047.4,547.9 L1052.6,547.7 L1057.8,547.5 L1063.0,547.2 L1068.1,546.8 L1073.3,546.5 L1078.5,546.1 L1083.6,545.7 L1088.8,545.2 L1094.0,544.8 L1099.2,544.4 L1104.3,544.0 L1109.5,543.6 L1114.7,543.2 L1119.9,542.8 L1125.2,542.5 L1130.5,542.1 L1135.8,541.7 L1141.2,541.3 L1146.5,540.9 L1151.8,540.6 L1157.1,540.2 L1162.3,539.8 L1167.5,539.4 L1172.6,539.1 L1177.6,538.7 L1182.4,538.3 L1187.1,538.0 L1193.2,537.6 L1199.4,537.1 L1205.6,536.6 L1211.7,536.2 L1217.7,535.7 L1223.5,535.3 L1228.9,534.9 L1233.9,534.5 L1238.3,534.2 L1242.1,533.9 L1245.1,533.7 L1245.1,584.8 L1242.1,584.5 L1238.3,584.1 L1233.9,583.7 L1228.9,583.2 L1223.5,582.6 L1217.7,582.1 L1211.7,581.5 L1205.6,580.9 L1199.4,580.4 L1193.2,579.9 L1187.1,579.4 L1182.4,579.1 L1177.6,578.7 L1172.6,578.4 L1167.5,578.0 L1162.3,577.7 L1157.1,577.4 L1151.8,577.1 L1146.5,576.8 L1141.2,576.5 L1135.8,576.2 L1130.5,576.0 L1125.2,575.8 L1119.9,575.6 L1114.7,575.5 L1109.5,575.4 L1104.3,575.4 L1099.2,575.5 L1094.0,575.6 L1088.8,575.7 L1083.6,575.9 L1078.5,576.1 L1073.3,576.2 L1068.1,576.4 L1063.0,576.5 L1057.8,576.6 L1052.6,576.6 L1047.4,576.5 L1042.2,576.4 L1037.1,576.2 L1031.9,575.9 L1026.7,575.5 L1021.5,575.0 L1016.4,574.5 L1011.2,573.9 L1006.0,573.4 L1000.9,572.8 L995.7,572.3 L990.5,571.9 L985.3,571.5 L980.1,571.1 L975.0,570.9 L969.8,570.8 L964.6,570.8 L959.4,570.8 L954.3,570.9 L949.1,571.1 L943.9,571.3 L938.7,571.6 L933.6,571.9 L928.4,572.3 L923.2,572.7 L918.0,573.1 L912.9,573.6 L907.7,574.1 L902.5,574.6 L897.3,575.1 L892.1,575.7 L886.7,576.3 L881.3,577.1 L875.8,577.9 L870.3,578.7 L864.8,579.6 L859.3,580.4 L853.9,581.3 L848.6,582.2 L843.5,583.0 L838.5,583.8 L833.7,584.6 L829.2,585.3 L824.9,585.9 L817.8,586.9 L811.0,587.8 L804.6,588.6 L798.6,589.3 L793.3,589.9 L788.6,590.5 L784.6,590.9 L781.4,591.3 Z" fill="#43BF71" fill-opacity="0.2"/>
<path d="M781.4,543.8 L784.6,543.9 L788.6,544.1 L793.3,544.2 L798.6,544.4 L804.6,544.6 L811.0,544.9 L817.8,545.1 L824.9,545.3 L829.2,545.4 L833.7,545.5 L838.5,545.7 L843.5,545.8 L848.6,545.9 L853.9,546.0 L859.3,546.2 L864.8,546.3 L870.3,546.4 L875.8,546.6 L881.3,546.7 L886.7,546.8 L892.1,547.0 L897.3,547.1 L902.5,547.2 L907.7,547.4 L912.9,547.6 L918.0,547.7 L923.2,547.9 L928.4,548.1 L933.6,548.3 L938.7,548.4 L943.9,548.6 L949.1,548.7 L954.3,548.9 L959.4,549.0 L964.6,549.1 L969.8,549.2 L975.0,549.3 L980.1,549.3 L985.3,549.4 L990.5,549.5 L995.7,549.5 L1000.9,549.6 L1006.0,549.6 L1011.2,549.6 L1016.4,549.6 L1021.5,549.6 L1026.7,549.5 L1031.9,549.4 L1037.1,549.3 L1042.2,549.2 L1047.4,549.0 L1052.6,548.8 L1057.8,548.5 L1063.0,548.3 L1068.1,547.9 L1073.3,547.6 L1078.5,547.2 L1083.6,546.9 L1088.8,546.5 L1094.0,546.2 L1099.2,545.8 L1104.3,545.5 L1109.5,545.2 L1114.7,544.9 L1119.9,544.6 L1125.2,544.4 L1130.5,544.1 L1135.8,543.8 L1141.2,543.5 L1146.5,543.3 L1151.8,543.0 L1157.1,542.8 L1162.3,542.6 L1167.5,542.3 L1172.6,542.2 L1177.6,542.0 L1182.4,541.8 L1187.1,541.7 L1193.2,541.6 L1199.4,541.5 L1205.6,541.5 L1211.7,541.5 L1217.7,541.5 L1223.5,541.5 L1228.9,541.6 L1233.9,541.6 L1238.3,541.7 L1242.1,541.7 L1245.1,541.7 L1245.1,574.7 L1242.1,574.6 L1238.3,574.5 L1233.9,574.4 L1228.9,574.2 L1223.5,574.1 L1217.7,573.9 L1211.7,573.7 L1205.6,573.5 L1199.4,573.4 L1193.2,573.2 L1187.1,573.0 L1182.4,572.9 L1177.6,572.7 L1172.6,572.6 L1167.5,572.4 L1162.3,572.2 L1157.1,572.1 L1151.8,571.9 L1146.5,571.8 L1141.2,571.6 L1135.8,571.4 L1130.5,571.3 L1125.2,571.1 L1119.9,571.0 L1114.7,570.8 L1109.5,570.6 L1104.3,570.5 L1099.2,570.3 L1094.0,570.1 L1088.8,570.0 L1083.6,569.8 L1078.5,569.6 L1073.3,569.4 L1068.1,569.3 L1063.0,569.2 L1057.8,569.0 L1052.6,568.9 L1047.4,568.9 L1042.2,568.8 L1037.1,568.8 L1031.9,568.8 L1026.7,568.8 L1021.5,568.8 L1016.4,568.8 L1011.2,568.8 L1006.0,568.9 L1000.9,569.0 L995.7,569.1 L990.5,569.2 L985.3,569.3 L980.1,569.4 L975.0,569.5 L969.8,569.7 L964.6,569.9 L959.4,570.0 L954.3,570.2 L949.1,570.4 L943.9,570.6 L938.7,570.9 L933.6,571.1 L928.4,571.4 L923.2,571.6 L918.0,571.9 L912.9,572.3 L907.7,572.6 L902.5,573.0 L897.3,573.4 L892.1,573.9 L886.7,574.4 L881.3,575.0 L875.8,575.6 L870.3,576.2 L864.8,576.9 L859.3,577.6 L853.9,578.2 L848.6,578.9 L843.5,579.5 L838.5,580.1 L833.7,580.7 L829.2,581.2 L824.9,581.6 L817.8,582.2 L811.0,582.7 L804.6,583.1 L798.6,583.4 L793.3,583.7 L788.6,583.9 L784.6,584.0 L781.4,584.2 Z" fill="#43BF71" fill-opacity="0.3"/>
<path d="M1259.6,529.4 L1303.1,525.5 L1303.1,595.6 L1259.6,590.2 Z" fill="#43BF71" fill-opacity="0.2"/>
<path d="M1259.6,540.1 L1303.1,538.4 L1303.1,581.6 L1259.6,576.8 Z" fill="#43BF71" fill-opacity="0.3"/>
<polyline points="781.4,565.8 784.6,565.7 788.6,565.6 793.3,565.4 798.6,565.2 804.6,565.0 811.0,564.8 817.8,564.6 824.9,564.3 829.2,564.1 833.7,564.0 838.5,563.8 843.5,563.6 848.6,563.4 853.9,563.1 859.3,562.9 864.8,562.7 870.3,562.5 875.8,562.3 881.3,562.1 886.7,561.9 892.1,561.7 897.3,561.5 902.5,561.3 907.7,561.2 912.9,561.0 918.0,560.9 923.2,560.7 928.4,560.6 933.6,560.4 938.7,560.3 943.9,560.2 949.1,560.0 954.3,559.9 959.4,559.8 964.6,559.7 969.8,559.6 975.0,559.5 980.1,559.4 985.3,559.4 990.5,559.3 995.7,559.2 1000.9,559.2 1006.0,559.1 1011.2,559.1 1016.4,559.0 1021.5,559.0 1026.7,559.0 1031.9,559.0 1037.1,558.9 1042.2,558.9 1047.4,558.9 1052.6,558.9 1057.8,558.9 1063.0,558.8 1068.1,558.8 1073.3,558.9 1078.5,558.9 1083.6,558.9 1088.8,558.9 1094.0,558.9 1099.2,558.9 1104.3,558.9 1109.5,558.9 1114.7,558.9 1119.9,558.9 1125.2,558.9 1130.5,558.9 1135.8,558.9 1141.2,558.9 1146.5,558.9 1151.8,558.9 1157.1,558.9 1162.3,558.9 1167.5,558.9 1172.6,558.9 1177.6,558.9 1182.4,558.9 1187.1,558.9 1193.2,558.9 1199.4,559.0 1205.6,559.0 1211.7,559.1 1217.7,559.1 1223.5,559.2 1228.9,559.2 1233.9,559.3 1238.3,559.3 1242.1,559.4 1245.1,559.4" fill="none" stroke="#43BF71" stroke-width="5.69" stroke-linejoin="round" stroke-linecap="butt"/>
<polyline points="1259.6,560.0 1303.1,560.4" fill="none" stroke="#43BF71" stroke-width="5.69" stroke-linejoin="round" stroke-linecap="butt"/>
<line x1="1252.36" y1="599.80" x2="1252.36" y2="521.70" stroke="#666666" stroke-width="2.84" stroke-dasharray="11.38 11.38"/>
</g>
<rect x="756.11" y="522.41" width="572.38" height="76.68" fill="none" stroke="#333333" stroke-width="1.42"/>
<line x1="748.10" y1="532.10" x2="755.40" y2="532.10" stroke="#333333" stroke-width="2.84"/>
<text x="741.30" y="540.30" font-size="23.90" fill="#4D4D4D" text-anchor="end" textLength="45.27" lengthAdjust="spacingAndGlyphs">-2.0</text>
<line x1="748.10" y1="552.70" x2="755.40" y2="552.70" stroke="#333333" stroke-width="2.84"/>
<text x="741.30" y="560.90" font-size="23.90" fill="#4D4D4D" text-anchor="end" textLength="45.27" lengthAdjust="spacingAndGlyphs">-2.5</text>
<line x1="748.10" y1="573.40" x2="755.40" y2="573.40" stroke="#333333" stroke-width="2.84"/>
<text x="741.30" y="581.60" font-size="23.90" fill="#4D4D4D" text-anchor="end" textLength="45.27" lengthAdjust="spacingAndGlyphs">-3.0</text>
<line x1="748.10" y1="594.10" x2="755.40" y2="594.10" stroke="#333333" stroke-width="2.84"/>
<text x="741.30" y="602.30" font-size="23.90" fill="#4D4D4D" text-anchor="end" textLength="45.27" lengthAdjust="spacingAndGlyphs">-3.5</text>
<rect x="108.61" y="615.31" width="572.38" height="43.48" fill="#D9D9D9" stroke="#333333" stroke-width="1.42"/>
<text x="394.80" y="645.10" font-size="23.90" fill="#1A1A1A" text-anchor="middle" textLength="215.90" lengthAdjust="spacingAndGlyphs">fts_bs_s_month__8</text>
<g clip-path="url(#cp8)">
<rect x="107.90" y="659.80" width="573.80" height="78.10" fill="#ffffff"/>
<line x1="107.90" y1="678.60" x2="681.70" y2="678.60" stroke="#EBEBEB" stroke-width="1.42"/>
<line x1="107.90" y1="695.95" x2="681.70" y2="695.95" stroke="#EBEBEB" stroke-width="1.42"/>
<line x1="107.90" y1="713.25" x2="681.70" y2="713.25" stroke="#EBEBEB" stroke-width="1.42"/>
<line x1="107.90" y1="661.23" x2="681.70" y2="661.23" stroke="#EBEBEB" stroke-width="1.42"/>
<line x1="107.90" y1="730.57" x2="681.70" y2="730.57" stroke="#EBEBEB" stroke-width="1.42"/>
<line x1="177.40" y1="659.80" x2="177.40" y2="737.90" stroke="#EBEBEB" stroke-width="1.42"/>
<line x1="322.30" y1="659.80" x2="322.30" y2="737.90" stroke="#EBEBEB" stroke-width="1.42"/>
<line x1="467.20" y1="659.80" x2="467.20" y2="737.90" stroke="#EBEBEB" stroke-width="1.42"/>
<line x1="612.10" y1="659.80" x2="612.10" y2="737.90" stroke="#EBEBEB" stroke-width="1.42"/>
<line x1="107.90" y1="669.90" x2="681.70" y2="669.90" stroke="#EBEBEB" stroke-width="2.84"/>
<line x1="107.90" y1="687.30" x2="681.70" y2="687.30" stroke="#EBEBEB" stroke-width="2.84"/>
<line x1="107.90" y1="704.60" x2="681.70" y2="704.60" stroke="#EBEBEB" stroke-width="2.84"/>
<line x1="107.90" y1="721.90" x2="681.70" y2="721.90" stroke="#EBEBEB" stroke-width="2.84"/>
<line x1="249.85" y1="659.80" x2="249.85" y2="737.90" stroke="#EBEBEB" stroke-width="2.84"/>
<line x1="394.75" y1="659.80" x2="394.75" y2="737.90" stroke="#EBEBEB" stroke-width="2.84"/>
<line x1="539.65" y1="659.80" x2="539.65" y2="737.90" stroke="#EBEBEB" stroke-width="2.84"/>
<path d="M133.9,677.5 L137.1,677.6 L141.1,677.7 L145.8,677.8 L151.1,678.0 L157.1,678.2 L163.5,678.4 L170.3,678.7 L177.4,679.0 L181.7,679.2 L186.2,679.5 L191.0,679.7 L196.0,680.0 L201.1,680.3 L206.4,680.6 L211.8,680.9 L217.3,681.3 L222.8,681.6 L228.3,681.9 L233.8,682.2 L239.2,682.4 L244.6,682.7 L249.8,682.9 L255.0,683.1 L260.2,683.3 L265.4,683.5 L270.6,683.8 L275.7,684.0 L280.9,684.2 L286.1,684.3 L291.2,684.5 L296.4,684.6 L301.6,684.7 L306.8,684.7 L311.9,684.7 L317.1,684.7 L322.3,684.6 L327.5,684.4 L332.7,684.2 L337.8,683.8 L343.0,683.4 L348.2,683.0 L353.4,682.6 L358.5,682.1 L363.7,681.6 L368.9,681.1 L374.1,680.6 L379.2,680.2 L384.4,679.8 L389.6,679.5 L394.8,679.2 L399.9,679.0 L405.1,678.8 L410.3,678.7 L415.4,678.6 L420.6,678.5 L425.8,678.4 L431.0,678.4 L436.1,678.3 L441.3,678.3 L446.5,678.3 L451.7,678.2 L456.8,678.2 L462.0,678.2 L467.2,678.1 L472.4,678.1 L477.7,678.0 L483.0,678.0 L488.3,678.0 L493.7,678.0 L499.0,678.0 L504.3,678.0 L509.6,678.0 L514.8,678.0 L520.0,678.0 L525.1,677.9 L530.1,677.8 L534.9,677.7 L539.6,677.5 L545.7,677.2 L551.9,676.8 L558.1,676.3 L564.2,675.8 L570.2,675.2 L576.0,674.7 L581.4,674.1 L586.4,673.6 L590.8,673.2 L594.6,672.8 L597.6,672.5 L597.6,726.5 L594.6,726.1 L590.8,725.5 L586.4,724.8 L581.4,724.1 L576.0,723.3 L570.2,722.4 L564.2,721.6 L558.1,720.7 L551.9,719.9 L545.7,719.2 L539.6,718.5 L534.9,718.0 L530.1,717.6 L525.1,717.2 L520.0,716.7 L514.8,716.3 L509.6,716.0 L504.3,715.6 L499.0,715.2 L493.7,714.9 L488.3,714.5 L483.0,714.2 L477.7,713.8 L472.4,713.5 L467.2,713.1 L462.0,712.7 L456.8,712.4 L451.7,712.0 L446.5,711.7 L441.3,711.3 L436.1,711.0 L431.0,710.6 L425.8,710.3 L420.6,710.0 L415.4,709.7 L410.3,709.4 L405.1,709.1 L399.9,708.8 L394.8,708.6 L389.6,708.4 L384.4,708.1 L379.2,707.9 L374.1,707.7 L368.9,707.5 L363.7,707.3 L358.5,707.1 L353.4,707.0 L348.2,706.8 L343.0,706.7 L337.8,706.6 L332.7,706.6 L327.5,706.6 L322.3,706.6 L317.1,706.7 L311.9,706.8 L306.8,706.9 L301.6,707.1 L296.4,707.3 L291.2,707.5 L286.1,707.8 L280.9,708.1 L275.7,708.3 L270.6,708.6 L265.4,709.0 L260.2,709.3 L255.0,709.6 L249.8,709.9 L244.6,710.2 L239.2,710.6 L233.8,711.0 L228.3,711.4 L222.8,711.8 L217.3,712.2 L211.8,712.6 L206.4,713.1 L201.1,713.5 L196.0,713.9 L191.0,714.3 L186.2,714.6 L181.7,715.0 L177.4,715.3 L170.3,715.8 L163.5,716.2 L157.1,716.7 L151.1,717.0 L145.8,717.4 L141.1,717.7 L137.1,717.9 L133.9,718.1 Z" fill="#7AD151" fill-opacity="0.2"/>
<path d="M133.9,680.3 L137.1,680.3 L141.1,680.4 L145.8,680.4 L151.1,680.5 L157.1,680.6 L163.5,680.7 L170.3,680.9 L177.4,681.2 L181.7,681.4 L186.2,681.7 L191.0,682.0 L196.0,682.3 L201.1,682.6 L206.4,683.0 L211.8,683.4 L217.3,683.7 L222.8,684.1 L228.3,684.4 L233.8,684.8 L239.2,685.1 L244.6,685.3 L249.8,685.5 L255.0,685.7 L260.2,685.8 L265.4,685.9 L270.6,686.1 L275.7,686.1 L280.9,686.2 L286.1,686.3 L291.2,686.3 L296.4,686.3 L301.6,686.3 L306.8,686.3 L311.9,686.2 L317.1,686.2 L322.3,686.1 L327.5,686.0 L332.7,685.8 L337.8,685.6 L343.0,685.4 L348.2,685.1 L353.4,684.8 L358.5,684.6 L363.7,684.3 L368.9,684.0 L374.1,683.7 L379.2,683.5 L384.4,683.2 L389.6,683.1 L394.8,682.9 L399.9,682.8 L405.1,682.7 L410.3,682.7 L415.4,682.7 L420.6,682.7 L425.8,682.7 L431.0,682.7 L436.1,682.8 L441.3,682.8 L446.5,682.8 L451.7,682.8 L456.8,682.7 L462.0,682.6 L467.2,682.5 L472.4,682.3 L477.7,682.1 L483.0,681.9 L488.3,681.6 L493.7,681.3 L499.0,681.0 L504.3,680.7 L509.6,680.3 L514.8,680.0 L520.0,679.7 L525.1,679.4 L530.1,679.1 L534.9,678.8 L539.6,678.6 L545.7,678.3 L551.9,678.1 L558.1,677.8 L564.2,677.6 L570.2,677.4 L576.0,677.2 L581.4,677.0 L586.4,676.8 L590.8,676.6 L594.6,676.5 L597.6,676.4 L597.6,721.7 L594.6,721.2 L590.8,720.7 L586.4,720.0 L581.4,719.2 L576.0,718.3 L570.2,717.5 L564.2,716.6 L558.1,715.7 L551.9,714.9 L545.7,714.1 L539.6,713.5 L534.9,713.0 L530.1,712.6 L525.1,712.2 L520.0,711.8 L514.8,711.4 L509.6,711.1 L504.3,710.7 L499.0,710.4 L493.7,710.1 L488.3,709.8 L483.0,709.5 L477.7,709.3 L472.4,709.0 L467.2,708.8 L462.0,708.6 L456.8,708.4 L451.7,708.3 L446.5,708.2 L441.3,708.1 L436.1,708.1 L431.0,708.0 L425.8,708.0 L420.6,707.9 L415.4,707.8 L410.3,707.8 L405.1,707.7 L399.9,707.6 L394.8,707.4 L389.6,707.2 L384.4,707.0 L379.2,706.7 L374.1,706.4 L368.9,706.1 L363.7,705.7 L358.5,705.4 L353.4,705.1 L348.2,704.8 L343.0,704.6 L337.8,704.3 L332.7,704.2 L327.5,704.0 L322.3,704.0 L317.1,704.0 L311.9,704.1 L306.8,704.2 L301.6,704.4 L296.4,704.6 L291.2,704.8 L286.1,705.0 L280.9,705.3 L275.7,705.6 L270.6,705.9 L265.4,706.2 L260.2,706.5 L255.0,706.8 L249.8,707.1 L244.6,707.4 L239.2,707.7 L233.8,708.1 L228.3,708.5 L222.8,708.9 L217.3,709.3 L211.8,709.7 L206.4,710.0 L201.1,710.4 L196.0,710.8 L191.0,711.1 L186.2,711.5 L181.7,711.8 L177.4,712.0 L170.3,712.4 L163.5,712.6 L157.1,712.9 L151.1,713.1 L145.8,713.2 L141.1,713.3 L137.1,713.4 L133.9,713.5 Z" fill="#7AD151" fill-opacity="0.3"/>
<path d="M612.1,668.9 L655.6,663.5 L655.6,733.0 L612.1,728.2 Z" fill="#7AD151" fill-opacity="0.2"/>
<path d="M612.1,672.5 L655.6,672.5 L655.6,729.3 L612.1,725.0 Z" fill="#7AD151" fill-opacity="0.3"/>
<polyline points="133.9,695.8 137.1,695.8 141.1,695.8 145.8,695.8 151.1,695.8 157.1,695.8 163.5,695.8 170.3,695.8 177.4,695.8 181.7,695.8 186.2,695.7 191.0,695.7 196.0,695.6 201.1,695.6 206.4,695.5 211.8,695.5 217.3,695.4 222.8,695.4 228.3,695.3 233.8,695.3 239.2,695.2 244.6,695.2 249.8,695.2 255.0,695.2 260.2,695.2 265.4,695.2 270.6,695.2 275.7,695.2 280.9,695.2 286.1,695.2 291.2,695.2 296.4,695.2 301.6,695.3 306.8,695.3 311.9,695.3 317.1,695.4 322.3,695.4 327.5,695.4 332.7,695.5 337.8,695.5 343.0,695.6 348.2,695.7 353.4,695.7 358.5,695.8 363.7,695.8 368.9,695.9 374.1,696.0 379.2,696.1 384.4,696.1 389.6,696.2 394.8,696.3 399.9,696.4 405.1,696.5 410.3,696.5 415.4,696.6 420.6,696.7 425.8,696.8 431.0,696.9 436.1,697.0 441.3,697.1 446.5,697.2 451.7,697.3 456.8,697.4 462.0,697.5 467.2,697.6 472.4,697.7 477.7,697.8 483.0,697.9 488.3,698.0 493.7,698.1 499.0,698.2 504.3,698.3 509.6,698.4 514.8,698.6 520.0,698.7 525.1,698.8 530.1,698.9 534.9,699.0 539.6,699.1 545.7,699.2 551.9,699.4 558.1,699.5 564.2,699.7 570.2,699.9 576.0,700.0 581.4,700.2 586.4,700.3 590.8,700.4 594.6,700.5 597.6,700.6" fill="none" stroke="#7AD151" stroke-width="5.69" stroke-linejoin="round" stroke-linecap="butt"/>
<polyline points="612.1,701.2 655.6,702.3" fill="none" stroke="#7AD151" stroke-width="5.69" stroke-linejoin="round" stroke-linecap="butt"/>
<line x1="604.86" y1="737.90" x2="604.86" y2="659.80" stroke="#666666" stroke-width="2.84" stroke-dasharray="11.38 11.38"/>
</g>
<rect x="108.61" y="660.51" width="572.38" height="76.68" fill="none" stroke="#333333" stroke-width="1.42"/>
<line x1="100.60" y1="669.90" x2="107.90" y2="669.90" stroke="#333333" stroke-width="2.84"/>
<text x="93.80" y="678.10" font-size="23.90" fill="#4D4D4D" text-anchor="end" textLength="45.27" lengthAdjust="spacingAndGlyphs">-2.0</text>
<line x1="100.60" y1="687.30" x2="107.90" y2="687.30" stroke="#333333" stroke-width="2.84"/>
<text x="93.80" y="695.50" font-size="23.90" fill="#4D4D4D" text-anchor="end" textLength="45.27" lengthAdjust="spacingAndGlyphs">-2.5</text>
<line x1="100.60" y1="704.60" x2="107.90" y2="704.60" stroke="#333333" stroke-width="2.84"/>
<text x="93.80" y="712.80" font-size="23.90" fill="#4D4D4D" text-anchor="end" textLength="45.27" lengthAdjust="spacingAndGlyphs">-3.0</text>
<line x1="100.60" y1="721.90" x2="107.90" y2="721.90" stroke="#333333" stroke-width="2.84"/>
<text x="93.80" y="730.10" font-size="23.90" fill="#4D4D4D" text-anchor="end" textLength="45.27" lengthAdjust="spacingAndGlyphs">-3.5</text>
<rect x="756.11" y="615.31" width="572.38" height="43.48" fill="#D9D9D9" stroke="#333333" stroke-width="1.42"/>
<text x="1042.30" y="645.10" font-size="23.90" fill="#1A1A1A" text-anchor="middle" textLength="215.90" lengthAdjust="spacingAndGlyphs">fts_bs_s_month__9</text>
<g clip-path="url(#cp9)">
<rect x="755.40" y="659.80" width="573.80" height="78.10" fill="#ffffff"/>
<line x1="755.40" y1="669.25" x2="1329.20" y2="669.25" stroke="#EBEBEB" stroke-width="1.42"/>
<line x1="755.40" y1="684.80" x2="1329.20" y2="684.80" stroke="#EBEBEB" stroke-width="1.42"/>
<line x1="755.40" y1="700.50" x2="1329.20" y2="700.50" stroke="#EBEBEB" stroke-width="1.42"/>
<line x1="755.40" y1="716.10" x2="1329.20" y2="716.10" stroke="#EBEBEB" stroke-width="1.42"/>
<line x1="755.40" y1="731.59" x2="1329.20" y2="731.59" stroke="#EBEBEB" stroke-width="1.42"/>
<line x1="824.90" y1="659.80" x2="824.90" y2="737.90" stroke="#EBEBEB" stroke-width="1.42"/>
<line x1="969.80" y1="659.80" x2="969.80" y2="737.90" stroke="#EBEBEB" stroke-width="1.42"/>
<line x1="1114.70" y1="659.80" x2="1114.70" y2="737.90" stroke="#EBEBEB" stroke-width="1.42"/>
<line x1="1259.60" y1="659.80" x2="1259.60" y2="737.90" stroke="#EBEBEB" stroke-width="1.42"/>
<line x1="755.40" y1="661.50" x2="1329.20" y2="661.50" stroke="#EBEBEB" stroke-width="2.84"/>
<line x1="755.40" y1="677.00" x2="1329.20" y2="677.00" stroke="#EBEBEB" stroke-width="2.84"/>
<line x1="755.40" y1="692.60" x2="1329.20" y2="692.60" stroke="#EBEBEB" stroke-width="2.84"/>
<line x1="755.40" y1="708.40" x2="1329.20" y2="708.40" stroke="#EBEBEB" stroke-width="2.84"/>
<line x1="755.40" y1="723.80" x2="1329.20" y2="723.80" stroke="#EBEBEB" stroke-width="2.84"/>
<line x1="897.35" y1="659.80" x2="897.35" y2="737.90" stroke="#EBEBEB" stroke-width="2.84"/>
<line x1="1042.25" y1="659.80" x2="1042.25" y2="737.90" stroke="#EBEBEB" stroke-width="2.84"/>
<line x1="1187.15" y1="659.80" x2="1187.15" y2="737.90" stroke="#EBEBEB" stroke-width="2.84"/>
<path d="M781.4,663.9 L784.6,664.2 L788.6,664.5 L793.3,664.8 L798.6,665.2 L804.6,665.7 L811.0,666.3 L817.8,667.0 L824.9,667.8 L829.2,668.3 L833.7,668.9 L838.5,669.6 L843.5,670.3 L848.6,671.1 L853.9,671.9 L859.3,672.7 L864.8,673.5 L870.3,674.2 L875.8,675.0 L881.3,675.7 L886.7,676.4 L892.1,677.0 L897.3,677.5 L902.5,678.0 L907.7,678.4 L912.9,678.7 L918.0,679.1 L923.2,679.4 L928.4,679.6 L933.6,679.9 L938.7,680.1 L943.9,680.3 L949.1,680.5 L954.3,680.7 L959.4,680.8 L964.6,681.0 L969.8,681.2 L975.0,681.4 L980.1,681.5 L985.3,681.7 L990.5,681.8 L995.7,681.9 L1000.9,682.0 L1006.0,682.1 L1011.2,682.2 L1016.4,682.2 L1021.5,682.3 L1026.7,682.4 L1031.9,682.4 L1037.1,682.5 L1042.2,682.5 L1047.4,682.5 L1052.6,682.6 L1057.8,682.7 L1063.0,682.7 L1068.1,682.8 L1073.3,682.8 L1078.5,682.8 L1083.6,682.8 L1088.8,682.8 L1094.0,682.8 L1099.2,682.8 L1104.3,682.7 L1109.5,682.6 L1114.7,682.5 L1119.9,682.3 L1125.2,682.1 L1130.5,681.9 L1135.8,681.6 L1141.2,681.3 L1146.5,681.0 L1151.8,680.6 L1157.1,680.3 L1162.3,679.9 L1167.5,679.6 L1172.6,679.3 L1177.6,679.0 L1182.4,678.8 L1187.1,678.6 L1193.2,678.4 L1199.4,678.2 L1205.6,678.1 L1211.7,677.9 L1217.7,677.8 L1223.5,677.8 L1228.9,677.7 L1233.9,677.6 L1238.3,677.6 L1242.1,677.5 L1245.1,677.5 L1245.1,722.8 L1242.1,722.3 L1238.3,721.7 L1233.9,721.0 L1228.9,720.2 L1223.5,719.3 L1217.7,718.4 L1211.7,717.5 L1205.6,716.6 L1199.4,715.7 L1193.2,714.9 L1187.1,714.2 L1182.4,713.7 L1177.6,713.2 L1172.6,712.8 L1167.5,712.3 L1162.3,711.9 L1157.1,711.5 L1151.8,711.1 L1146.5,710.7 L1141.2,710.3 L1135.8,709.9 L1130.5,709.5 L1125.2,709.1 L1119.9,708.8 L1114.7,708.4 L1109.5,708.0 L1104.3,707.7 L1099.2,707.3 L1094.0,706.9 L1088.8,706.6 L1083.6,706.2 L1078.5,705.9 L1073.3,705.6 L1068.1,705.2 L1063.0,704.9 L1057.8,704.6 L1052.6,704.3 L1047.4,704.0 L1042.2,703.7 L1037.1,703.4 L1031.9,703.1 L1026.7,702.8 L1021.5,702.5 L1016.4,702.2 L1011.2,701.9 L1006.0,701.7 L1000.9,701.4 L995.7,701.1 L990.5,700.9 L985.3,700.7 L980.1,700.5 L975.0,700.3 L969.8,700.2 L964.6,700.1 L959.4,700.0 L954.3,700.0 L949.1,699.9 L943.9,699.9 L938.7,699.9 L933.6,699.9 L928.4,699.9 L923.2,700.0 L918.0,700.0 L912.9,700.1 L907.7,700.1 L902.5,700.2 L897.3,700.2 L892.1,700.2 L886.7,700.3 L881.3,700.4 L875.8,700.4 L870.3,700.5 L864.8,700.6 L859.3,700.7 L853.9,700.7 L848.6,700.8 L843.5,700.9 L838.5,701.0 L833.7,701.1 L829.2,701.1 L824.9,701.2 L817.8,701.3 L811.0,701.4 L804.6,701.5 L798.6,701.6 L793.3,701.7 L788.6,701.8 L784.6,701.8 L781.4,701.9 Z" fill="#BBDF27" fill-opacity="0.2"/>
<path d="M781.4,671.0 L784.6,671.2 L788.6,671.5 L793.3,671.9 L798.6,672.3 L804.6,672.8 L811.0,673.2 L817.8,673.8 L824.9,674.3 L829.2,674.6 L833.7,675.0 L838.5,675.4 L843.5,675.8 L848.6,676.2 L853.9,676.6 L859.3,677.0 L864.8,677.4 L870.3,677.8 L875.8,678.3 L881.3,678.7 L886.7,679.0 L892.1,679.4 L897.3,679.7 L902.5,680.0 L907.7,680.3 L912.9,680.6 L918.0,680.8 L923.2,681.1 L928.4,681.3 L933.6,681.6 L938.7,681.8 L943.9,682.0 L949.1,682.2 L954.3,682.4 L959.4,682.6 L964.6,682.7 L969.8,682.9 L975.0,683.0 L980.1,683.2 L985.3,683.3 L990.5,683.4 L995.7,683.5 L1000.9,683.6 L1006.0,683.7 L1011.2,683.8 L1016.4,683.9 L1021.5,683.9 L1026.7,683.9 L1031.9,684.0 L1037.1,684.0 L1042.2,684.0 L1047.4,684.0 L1052.6,684.0 L1057.8,683.9 L1063.0,683.8 L1068.1,683.8 L1073.3,683.7 L1078.5,683.6 L1083.6,683.5 L1088.8,683.4 L1094.0,683.3 L1099.2,683.2 L1104.3,683.1 L1109.5,683.0 L1114.7,682.9 L1119.9,682.8 L1125.2,682.7 L1130.5,682.6 L1135.8,682.5 L1141.2,682.4 L1146.5,682.3 L1151.8,682.2 L1157.1,682.1 L1162.3,682.0 L1167.5,682.0 L1172.6,681.9 L1177.6,681.8 L1182.4,681.8 L1187.1,681.8 L1193.2,681.8 L1199.4,681.9 L1205.6,682.0 L1211.7,682.1 L1217.7,682.2 L1223.5,682.4 L1228.9,682.5 L1233.9,682.6 L1238.3,682.7 L1242.1,682.8 L1245.1,682.9 L1245.1,716.3 L1242.1,716.1 L1238.3,715.9 L1233.9,715.7 L1228.9,715.4 L1223.5,715.1 L1217.7,714.8 L1211.7,714.4 L1205.6,714.0 L1199.4,713.6 L1193.2,713.2 L1187.1,712.7 L1182.4,712.3 L1177.6,711.8 L1172.6,711.4 L1167.5,710.8 L1162.3,710.3 L1157.1,709.8 L1151.8,709.2 L1146.5,708.6 L1141.2,708.1 L1135.8,707.5 L1130.5,707.0 L1125.2,706.5 L1119.9,706.0 L1114.7,705.6 L1109.5,705.2 L1104.3,704.8 L1099.2,704.4 L1094.0,704.1 L1088.8,703.8 L1083.6,703.4 L1078.5,703.1 L1073.3,702.8 L1068.1,702.5 L1063.0,702.3 L1057.8,702.0 L1052.6,701.7 L1047.4,701.5 L1042.2,701.2 L1037.1,700.9 L1031.9,700.7 L1026.7,700.4 L1021.5,700.2 L1016.4,699.9 L1011.2,699.7 L1006.0,699.5 L1000.9,699.3 L995.7,699.1 L990.5,698.9 L985.3,698.7 L980.1,698.6 L975.0,698.5 L969.8,698.4 L964.6,698.3 L959.4,698.3 L954.3,698.3 L949.1,698.3 L943.9,698.4 L938.7,698.4 L933.6,698.5 L928.4,698.6 L923.2,698.6 L918.0,698.7 L912.9,698.8 L907.7,698.9 L902.5,699.0 L897.3,699.1 L892.1,699.2 L886.7,699.3 L881.3,699.4 L875.8,699.5 L870.3,699.6 L864.8,699.7 L859.3,699.9 L853.9,700.0 L848.6,700.1 L843.5,700.2 L838.5,700.3 L833.7,700.4 L829.2,700.5 L824.9,700.6 L817.8,700.7 L811.0,700.8 L804.6,700.9 L798.6,701.0 L793.3,701.1 L788.6,701.1 L784.6,701.2 L781.4,701.2 Z" fill="#BBDF27" fill-opacity="0.3"/>
<path d="M1259.6,676.4 L1303.1,675.3 L1303.1,733.6 L1259.6,726.1 Z" fill="#BBDF27" fill-opacity="0.2"/>
<path d="M1259.6,676.9 L1303.1,675.3 L1303.1,721.7 L1259.6,723.9 Z" fill="#BBDF27" fill-opacity="0.3"/>
<polyline points="781.4,686.8 784.6,686.9 788.6,686.9 793.3,687.0 798.6,687.1 804.6,687.2 811.0,687.3 817.8,687.5 824.9,687.6 829.2,687.7 833.7,687.8 838.5,687.8 843.5,687.9 848.6,688.0 853.9,688.1 859.3,688.2 864.8,688.3 870.3,688.4 875.8,688.5 881.3,688.6 886.7,688.7 892.1,688.8 897.3,688.9 902.5,689.0 907.7,689.1 912.9,689.2 918.0,689.3 923.2,689.4 928.4,689.5 933.6,689.6 938.7,689.8 943.9,689.9 949.1,690.0 954.3,690.1 959.4,690.2 964.6,690.3 969.8,690.4 975.0,690.5 980.1,690.6 985.3,690.7 990.5,690.8 995.7,690.8 1000.9,690.9 1006.0,691.0 1011.2,691.1 1016.4,691.2 1021.5,691.3 1026.7,691.4 1031.9,691.5 1037.1,691.6 1042.2,691.7 1047.4,691.8 1052.6,692.0 1057.8,692.1 1063.0,692.3 1068.1,692.5 1073.3,692.6 1078.5,692.8 1083.6,693.0 1088.8,693.2 1094.0,693.4 1099.2,693.5 1104.3,693.7 1109.5,693.9 1114.7,694.1 1119.9,694.3 1125.2,694.5 1130.5,694.7 1135.8,694.9 1141.2,695.1 1146.5,695.3 1151.8,695.5 1157.1,695.7 1162.3,695.9 1167.5,696.1 1172.6,696.3 1177.6,696.5 1182.4,696.7 1187.1,696.9 1193.2,697.2 1199.4,697.4 1205.6,697.7 1211.7,698.0 1217.7,698.3 1223.5,698.6 1228.9,698.9 1233.9,699.1 1238.3,699.4 1242.1,699.6 1245.1,699.7" fill="none" stroke="#BBDF27" stroke-width="5.69" stroke-linejoin="round" stroke-linecap="butt"/>
<polyline points="1259.6,700.6 1303.1,702.3" fill="none" stroke="#BBDF27" stroke-width="5.69" stroke-linejoin="round" stroke-linecap="butt"/>
<line x1="1252.36" y1="737.90" x2="1252.36" y2="659.80" stroke="#666666" stroke-width="2.84" stroke-dasharray="11.38 11.38"/>
</g>
<rect x="756.11" y="660.51" width="572.38" height="76.68" fill="none" stroke="#333333" stroke-width="1.42"/>
<line x1="748.10" y1="661.50" x2="755.40" y2="661.50" stroke="#333333" stroke-width="2.84"/>
<text x="741.30" y="669.70" font-size="23.90" fill="#4D4D4D" text-anchor="end" textLength="45.27" lengthAdjust="spacingAndGlyphs">-1.0</text>
<line x1="748.10" y1="677.00" x2="755.40" y2="677.00" stroke="#333333" stroke-width="2.84"/>
<text x="741.30" y="685.20" font-size="23.90" fill="#4D4D4D" text-anchor="end" textLength="45.27" lengthAdjust="spacingAndGlyphs">-1.5</text>
<line x1="748.10" y1="692.60" x2="755.40" y2="692.60" stroke="#333333" stroke-width="2.84"/>
<text x="741.30" y="700.80" font-size="23.90" fill="#4D4D4D" text-anchor="end" textLength="45.27" lengthAdjust="spacingAndGlyphs">-2.0</text>
<line x1="748.10" y1="708.40" x2="755.40" y2="708.40" stroke="#333333" stroke-width="2.84"/>
<text x="741.30" y="716.60" font-size="23.90" fill="#4D4D4D" text-anchor="end" textLength="45.27" lengthAdjust="spacingAndGlyphs">-2.5</text>
<line x1="748.10" y1="723.80" x2="755.40" y2="723.80" stroke="#333333" stroke-width="2.84"/>
<text x="741.30" y="732.00" font-size="23.90" fill="#4D4D4D" text-anchor="end" textLength="45.27" lengthAdjust="spacingAndGlyphs">-3.0</text>
<line x1="897.35" y1="737.90" x2="897.35" y2="745.20" stroke="#333333" stroke-width="2.84"/>
<text x="897.35" y="767.90" font-size="23.90" fill="#4D4D4D" text-anchor="middle" textLength="59.04" lengthAdjust="spacingAndGlyphs">1990</text>
<line x1="1042.25" y1="737.90" x2="1042.25" y2="745.20" stroke="#333333" stroke-width="2.84"/>
<text x="1042.25" y="767.90" font-size="23.90" fill="#4D4D4D" text-anchor="middle" textLength="59.04" lengthAdjust="spacingAndGlyphs">2000</text>
<line x1="1187.15" y1="737.90" x2="1187.15" y2="745.20" stroke="#333333" stroke-width="2.84"/>
<text x="1187.15" y="767.90" font-size="23.90" fill="#4D4D4D" text-anchor="middle" textLength="59.04" lengthAdjust="spacingAndGlyphs">2010</text>
<rect x="108.61" y="753.41" width="572.38" height="43.48" fill="#D9D9D9" stroke="#333333" stroke-width="1.42"/>
<text x="394.80" y="783.20" font-size="23.90" fill="#1A1A1A" text-anchor="middle" textLength="184.46" lengthAdjust="spacingAndGlyphs">fts_year1_mean</text>
<g clip-path="url(#cp10)">
<rect x="107.90" y="797.90" width="573.80" height="78.10" fill="#ffffff"/>
<line x1="107.90" y1="810.60" x2="681.70" y2="810.60" stroke="#EBEBEB" stroke-width="1.42"/>
<line x1="107.90" y1="831.80" x2="681.70" y2="831.80" stroke="#EBEBEB" stroke-width="1.42"/>
<line x1="107.90" y1="852.95" x2="681.70" y2="852.95" stroke="#EBEBEB" stroke-width="1.42"/>
<line x1="107.90" y1="874.08" x2="681.70" y2="874.08" stroke="#EBEBEB" stroke-width="1.42"/>
<line x1="177.40" y1="797.90" x2="177.40" y2="876.00" stroke="#EBEBEB" stroke-width="1.42"/>
<line x1="322.30" y1="797.90" x2="322.30" y2="876.00" stroke="#EBEBEB" stroke-width="1.42"/>
<line x1="467.20" y1="797.90" x2="467.20" y2="876.00" stroke="#EBEBEB" stroke-width="1.42"/>
<line x1="612.10" y1="797.90" x2="612.10" y2="876.00" stroke="#EBEBEB" stroke-width="1.42"/>
<line x1="107.90" y1="800.00" x2="681.70" y2="800.00" stroke="#EBEBEB" stroke-width="2.84"/>
<line x1="107.90" y1="821.20" x2="681.70" y2="821.20" stroke="#EBEBEB" stroke-width="2.84"/>
<line x1="107.90" y1="842.40" x2="681.70" y2="842.40" stroke="#EBEBEB" stroke-width="2.84"/>
<line x1="107.90" y1="863.50" x2="681.70" y2="863.50" stroke="#EBEBEB" stroke-width="2.84"/>
<line x1="249.85" y1="797.90" x2="249.85" y2="876.00" stroke="#EBEBEB" stroke-width="2.84"/>
<line x1="394.75" y1="797.90" x2="394.75" y2="876.00" stroke="#EBEBEB" stroke-width="2.84"/>
<line x1="539.65" y1="797.90" x2="539.65" y2="876.00" stroke="#EBEBEB" stroke-width="2.84"/>
<path d="M133.9,799.8 L148.4,816.5 L162.9,833.4 L177.4,839.9 L191.9,838.9 L206.4,837.4 L220.9,839.9 L235.4,844.3 L249.8,842.8 L264.3,833.4 L278.8,825.0 L293.3,829.4 L307.8,843.5 L322.3,847.2 L336.8,833.4 L351.3,811.6 L365.8,808.0 L380.3,824.7 L394.8,847.9 L409.2,852.2 L423.7,841.4 L438.2,832.7 L452.7,838.5 L467.2,849.3 L481.7,851.2 L496.2,840.6 L510.7,831.2 L525.2,833.4 L539.6,840.6 L554.1,843.5 L568.6,836.9 L583.1,831.3 L597.6,828.8 L597.6,847.0 L583.1,847.9 L568.6,851.7 L554.1,856.7 L539.6,853.8 L525.2,846.6 L510.7,844.4 L496.2,853.8 L481.7,864.4 L467.2,862.5 L452.7,851.7 L438.2,845.9 L423.7,854.6 L409.2,865.4 L394.8,861.1 L380.3,837.9 L365.8,821.2 L351.3,824.8 L336.8,846.6 L322.3,860.4 L307.8,856.7 L293.3,842.6 L278.8,838.2 L264.3,846.6 L249.8,856.0 L235.4,857.5 L220.9,853.1 L206.4,850.6 L191.9,852.1 L177.4,853.1 L162.9,848.8 L148.4,834.3 L133.9,819.8 Z" fill="#FDE725" fill-opacity="0.2"/>
<path d="M133.9,802.3 L148.4,818.8 L162.9,835.3 L177.4,841.6 L191.9,840.6 L206.4,839.1 L220.9,841.6 L235.4,846.0 L249.8,844.5 L264.3,835.1 L278.8,826.7 L293.3,831.1 L307.8,845.2 L322.3,848.9 L336.8,835.1 L351.3,813.3 L365.8,809.7 L380.3,826.4 L394.8,849.6 L409.2,853.9 L423.7,843.1 L438.2,834.4 L452.7,840.2 L467.2,851.0 L481.7,852.9 L496.2,842.3 L510.7,832.9 L525.2,835.1 L539.6,842.3 L554.1,845.2 L568.6,838.8 L583.1,833.6 L597.6,831.3 L597.6,844.5 L583.1,845.6 L568.6,849.8 L554.1,855.0 L539.6,852.1 L525.2,844.9 L510.7,842.7 L496.2,852.1 L481.7,862.7 L467.2,860.8 L452.7,850.0 L438.2,844.2 L423.7,852.9 L409.2,863.7 L394.8,859.4 L380.3,836.2 L365.8,819.5 L351.3,823.1 L336.8,844.9 L322.3,858.7 L307.8,855.0 L293.3,840.9 L278.8,836.5 L264.3,844.9 L249.8,854.3 L235.4,855.8 L220.9,851.4 L206.4,848.9 L191.9,850.4 L177.4,851.4 L162.9,846.9 L148.4,832.0 L133.9,817.3 Z" fill="#FDE725" fill-opacity="0.3"/>
<path d="M612.1,821.1 L655.6,805.9 L655.6,871.9 L612.1,858.1 Z" fill="#FDE725" fill-opacity="0.2"/>
<path d="M612.1,824.0 L655.6,813.9 L655.6,864.6 L612.1,854.5 Z" fill="#FDE725" fill-opacity="0.3"/>
<polyline points="133.9,809.8 148.4,825.4 162.9,841.1 177.4,846.5 191.9,845.5 206.4,844.0 220.9,846.5 235.4,850.9 249.8,849.4 264.3,840.0 278.8,831.6 293.3,836.0 307.8,850.1 322.3,853.8 336.8,840.0 351.3,818.2 365.8,814.6 380.3,831.3 394.8,854.5 409.2,858.8 423.7,848.0 438.2,839.3 452.7,845.1 467.2,855.9 481.7,857.8 496.2,847.2 510.7,837.8 525.2,840.0 539.6,847.2 554.1,850.1 568.6,844.3 583.1,839.6 597.6,837.9" fill="none" stroke="#FDE725" stroke-width="5.69" stroke-linejoin="round" stroke-linecap="butt"/>
<polyline points="612.1,839.0 655.6,839.5" fill="none" stroke="#FDE725" stroke-width="5.69" stroke-linejoin="round" stroke-linecap="butt"/>
<line x1="604.86" y1="876.00" x2="604.86" y2="797.90" stroke="#666666" stroke-width="2.84" stroke-dasharray="11.38 11.38"/>
</g>
<rect x="108.61" y="798.61" width="572.38" height="76.68" fill="none" stroke="#333333" stroke-width="1.42"/>
<line x1="100.60" y1="800.00" x2="107.90" y2="800.00" stroke="#333333" stroke-width="2.84"/>
<text x="93.80" y="808.20" font-size="23.90" fill="#4D4D4D" text-anchor="end" textLength="14.76" lengthAdjust="spacingAndGlyphs">2</text>
<line x1="100.60" y1="821.20" x2="107.90" y2="821.20" stroke="#333333" stroke-width="2.84"/>
<text x="93.80" y="829.40" font-size="23.90" fill="#4D4D4D" text-anchor="end" textLength="14.76" lengthAdjust="spacingAndGlyphs">1</text>
<line x1="100.60" y1="842.40" x2="107.90" y2="842.40" stroke="#333333" stroke-width="2.84"/>
<text x="93.80" y="850.60" font-size="23.90" fill="#4D4D4D" text-anchor="end" textLength="14.76" lengthAdjust="spacingAndGlyphs">0</text>
<line x1="100.60" y1="863.50" x2="107.90" y2="863.50" stroke="#333333" stroke-width="2.84"/>
<text x="93.80" y="871.70" font-size="23.90" fill="#4D4D4D" text-anchor="end" textLength="23.13" lengthAdjust="spacingAndGlyphs">-1</text>
<line x1="249.85" y1="876.00" x2="249.85" y2="883.30" stroke="#333333" stroke-width="2.84"/>
<text x="249.85" y="906.00" font-size="23.90" fill="#4D4D4D" text-anchor="middle" textLength="59.04" lengthAdjust="spacingAndGlyphs">1990</text>
<line x1="394.75" y1="876.00" x2="394.75" y2="883.30" stroke="#333333" stroke-width="2.84"/>
<text x="394.75" y="906.00" font-size="23.90" fill="#4D4D4D" text-anchor="middle" textLength="59.04" lengthAdjust="spacingAndGlyphs">2000</text>
<line x1="539.65" y1="876.00" x2="539.65" y2="883.30" stroke="#333333" stroke-width="2.84"/>
<text x="539.65" y="906.00" font-size="23.90" fill="#4D4D4D" text-anchor="middle" textLength="59.04" lengthAdjust="spacingAndGlyphs">2010</text>
</svg></body></html>
